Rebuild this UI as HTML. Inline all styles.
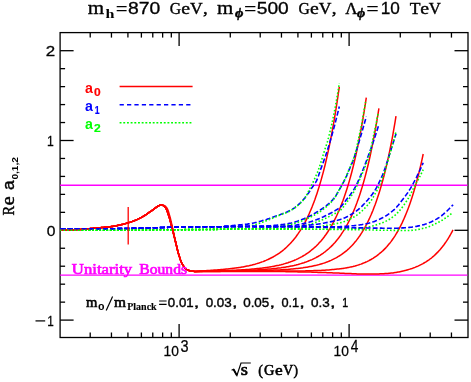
<!DOCTYPE html>
<html><head><meta charset="utf-8"><title>chart</title>
<style>html,body{margin:0;padding:0;background:#fff;}body{width:471px;height:382px;overflow:hidden;position:relative;}</style>
</head><body>
<svg width="471" height="382" viewBox="0 0 471 382" style="position:absolute;left:0;top:0">
<rect x="0" y="0" width="471" height="382" fill="#fff"/>
<clipPath id="c"><rect x="59.800000000000004" y="32.6" width="407.60" height="304.9"/></clipPath>
<g stroke="#000" stroke-width="1.3" fill="none" stroke-linecap="butt">
<rect x="60.1" y="32.6" width="407.9" height="304.9"/>
<line x1="90.21" x2="90.21" y1="337.5" y2="332.5"/>
<line x1="90.21" x2="90.21" y1="32.6" y2="37.6"/>
<line x1="111.45" x2="111.45" y1="337.5" y2="332.5"/>
<line x1="111.45" x2="111.45" y1="32.6" y2="37.6"/>
<line x1="127.92" x2="127.92" y1="337.5" y2="332.5"/>
<line x1="127.92" x2="127.92" y1="32.6" y2="37.6"/>
<line x1="141.39" x2="141.39" y1="337.5" y2="332.5"/>
<line x1="141.39" x2="141.39" y1="32.6" y2="37.6"/>
<line x1="152.77" x2="152.77" y1="337.5" y2="332.5"/>
<line x1="152.77" x2="152.77" y1="32.6" y2="37.6"/>
<line x1="162.63" x2="162.63" y1="337.5" y2="332.5"/>
<line x1="162.63" x2="162.63" y1="32.6" y2="37.6"/>
<line x1="171.32" x2="171.32" y1="337.5" y2="332.5"/>
<line x1="171.32" x2="171.32" y1="32.6" y2="37.6"/>
<line x1="179.10" x2="179.10" y1="337.5" y2="324.0"/>
<line x1="179.10" x2="179.10" y1="32.6" y2="46.1"/>
<line x1="230.28" x2="230.28" y1="337.5" y2="332.5"/>
<line x1="230.28" x2="230.28" y1="32.6" y2="37.6"/>
<line x1="260.21" x2="260.21" y1="337.5" y2="332.5"/>
<line x1="260.21" x2="260.21" y1="32.6" y2="37.6"/>
<line x1="281.45" x2="281.45" y1="337.5" y2="332.5"/>
<line x1="281.45" x2="281.45" y1="32.6" y2="37.6"/>
<line x1="297.92" x2="297.92" y1="337.5" y2="332.5"/>
<line x1="297.92" x2="297.92" y1="32.6" y2="37.6"/>
<line x1="311.39" x2="311.39" y1="337.5" y2="332.5"/>
<line x1="311.39" x2="311.39" y1="32.6" y2="37.6"/>
<line x1="322.77" x2="322.77" y1="337.5" y2="332.5"/>
<line x1="322.77" x2="322.77" y1="32.6" y2="37.6"/>
<line x1="332.63" x2="332.63" y1="337.5" y2="332.5"/>
<line x1="332.63" x2="332.63" y1="32.6" y2="37.6"/>
<line x1="341.32" x2="341.32" y1="337.5" y2="332.5"/>
<line x1="341.32" x2="341.32" y1="32.6" y2="37.6"/>
<line x1="349.10" x2="349.10" y1="337.5" y2="324.0"/>
<line x1="349.10" x2="349.10" y1="32.6" y2="46.1"/>
<line x1="400.28" x2="400.28" y1="337.5" y2="332.5"/>
<line x1="400.28" x2="400.28" y1="32.6" y2="37.6"/>
<line x1="430.21" x2="430.21" y1="337.5" y2="332.5"/>
<line x1="430.21" x2="430.21" y1="32.6" y2="37.6"/>
<line x1="451.45" x2="451.45" y1="337.5" y2="332.5"/>
<line x1="451.45" x2="451.45" y1="32.6" y2="37.6"/>
<line x1="60.1" x2="73.6" y1="320.10" y2="320.10"/>
<line x1="468.0" x2="454.5" y1="320.10" y2="320.10"/>
<line x1="60.1" x2="65.1" y1="302.14" y2="302.14"/>
<line x1="468.0" x2="463.0" y1="302.14" y2="302.14"/>
<line x1="60.1" x2="65.1" y1="284.18" y2="284.18"/>
<line x1="468.0" x2="463.0" y1="284.18" y2="284.18"/>
<line x1="60.1" x2="65.1" y1="266.22" y2="266.22"/>
<line x1="468.0" x2="463.0" y1="266.22" y2="266.22"/>
<line x1="60.1" x2="65.1" y1="248.26" y2="248.26"/>
<line x1="468.0" x2="463.0" y1="248.26" y2="248.26"/>
<line x1="60.1" x2="73.6" y1="230.30" y2="230.30"/>
<line x1="468.0" x2="454.5" y1="230.30" y2="230.30"/>
<line x1="60.1" x2="65.1" y1="212.34" y2="212.34"/>
<line x1="468.0" x2="463.0" y1="212.34" y2="212.34"/>
<line x1="60.1" x2="65.1" y1="194.38" y2="194.38"/>
<line x1="468.0" x2="463.0" y1="194.38" y2="194.38"/>
<line x1="60.1" x2="65.1" y1="176.42" y2="176.42"/>
<line x1="468.0" x2="463.0" y1="176.42" y2="176.42"/>
<line x1="60.1" x2="65.1" y1="158.46" y2="158.46"/>
<line x1="468.0" x2="463.0" y1="158.46" y2="158.46"/>
<line x1="60.1" x2="73.6" y1="140.50" y2="140.50"/>
<line x1="468.0" x2="454.5" y1="140.50" y2="140.50"/>
<line x1="60.1" x2="65.1" y1="122.54" y2="122.54"/>
<line x1="468.0" x2="463.0" y1="122.54" y2="122.54"/>
<line x1="60.1" x2="65.1" y1="104.58" y2="104.58"/>
<line x1="468.0" x2="463.0" y1="104.58" y2="104.58"/>
<line x1="60.1" x2="65.1" y1="86.62" y2="86.62"/>
<line x1="468.0" x2="463.0" y1="86.62" y2="86.62"/>
<line x1="60.1" x2="65.1" y1="68.66" y2="68.66"/>
<line x1="468.0" x2="463.0" y1="68.66" y2="68.66"/>
<line x1="60.1" x2="73.6" y1="50.70" y2="50.70"/>
<line x1="468.0" x2="454.5" y1="50.70" y2="50.70"/>
</g>
<g clip-path="url(#c)" fill="none" stroke-linejoin="round">
<line x1="60.1" x2="468.0" y1="185.30" y2="185.30" stroke="#f0f" stroke-width="1.4"/>
<line x1="60.1" x2="468.0" y1="275.10" y2="275.10" stroke="#f0f" stroke-width="1.4"/>
<path d="M60.5,230.1 L61.5,230.1 L62.5,230.1 L63.5,230.1 L64.5,230.0 L65.5,230.0 L66.5,230.0 L67.5,230.0 L68.5,229.9 L69.5,229.9 L70.5,229.9 L71.5,229.8 L72.5,229.8 L73.5,229.7 L74.5,229.7 L75.5,229.7 L76.5,229.6 L77.5,229.6 L78.5,229.5 L79.5,229.5 L80.5,229.4 L81.5,229.3 L82.5,229.3 L83.5,229.2 L84.5,229.1 L85.5,229.0 L86.5,229.0 L87.5,228.9 L88.5,228.8 L89.5,228.7 L90.5,228.6 L91.5,228.5 L92.5,228.4 L93.5,228.3 L94.5,228.3 L95.5,228.2 L96.5,228.1 L97.5,228.0 L98.5,227.9 L99.5,227.8 L100.5,227.7 L101.5,227.6 L102.5,227.5 L103.5,227.4 L104.5,227.3 L105.5,227.2 L106.5,227.1 L107.5,227.0 L108.5,226.9 L109.5,226.8 L110.5,226.7 L111.5,226.5 L112.5,226.4 L113.5,226.2 L114.5,226.1 L115.5,225.9 L116.5,225.7 L117.5,225.5 L118.5,225.3 L119.5,225.1 L120.5,224.9 L121.5,224.6 L122.5,224.4 L123.5,224.1 L124.5,223.9 L125.5,223.6 L126.5,223.3 L127.5,223.0 L128.5,222.7 L129.5,222.4 L130.5,222.1 L131.5,221.7 L132.5,221.4 L133.5,221.0 L134.5,220.6 L135.5,220.2 L136.5,219.8 L137.5,219.4 L138.5,218.9 L139.5,218.4 L140.5,217.9 L141.5,217.4 L142.5,216.8 L143.5,216.2 L144.5,215.6 L145.5,215.0 L146.5,214.3 L147.5,213.6 L148.5,212.9 L149.5,212.2 L150.5,211.5 L151.5,210.8 L152.5,210.1 L153.5,209.4 L154.5,208.6 L155.5,207.9 L156.5,207.2 L157.5,206.5 L158.5,205.9 L159.5,205.4 L160.5,205.0 L161.5,204.9 L162.5,205.2 L163.5,205.6 L164.5,206.4 L165.5,207.6 L166.5,209.3 L167.5,211.9 L168.5,214.9 L169.5,218.1 L170.5,221.7 L171.5,225.5 L172.5,229.4 L173.5,233.5 L174.5,237.6 L175.5,241.7 L176.5,245.9 L177.5,250.0 L178.5,253.7 L179.5,256.9 L180.5,259.9 L181.5,262.5 L182.5,264.4 L183.5,266.0 L184.5,267.4 L185.5,268.5 L186.5,269.3 L187.5,269.8 L188.5,270.3 L189.5,270.7 L190.5,270.9 L191.5,271.1 L192.5,271.2 L193.5,271.3 L194.5,271.4 L195.5,271.4 L197.0,271.3 L198.0,271.3 L199.0,271.2 L200.0,271.1 L201.0,271.0 L202.0,271.0 L203.0,270.9 L204.0,270.8 L205.0,270.8 L206.0,270.7 L207.0,270.6 L208.0,270.6 L209.0,270.5 L210.0,270.4 L211.0,270.3 L212.0,270.3 L213.0,270.2 L214.0,270.1 L215.0,270.1 L216.0,270.0 L217.0,269.9 L218.0,269.8 L219.0,269.7 L220.0,269.7 L221.0,269.6 L222.0,269.5 L223.0,269.4 L224.0,269.3 L225.0,269.2 L226.0,269.1 L227.0,269.0 L228.0,268.9 L229.0,268.8 L230.0,268.7 L231.0,268.6 L232.0,268.5 L233.0,268.3 L234.0,268.2 L235.0,268.1 L236.0,268.0 L237.0,267.8 L238.0,267.7 L239.0,267.5 L240.0,267.4 L241.0,267.2 L242.0,267.0 L243.0,266.9 L244.0,266.7 L245.0,266.5 L246.0,266.3 L247.0,266.1 L248.0,265.9 L249.0,265.7 L250.0,265.4 L251.0,265.2 L252.0,265.0 L253.0,264.7 L254.0,264.4 L255.0,264.2 L256.0,263.9 L257.0,263.6 L258.0,263.3 L259.0,263.0 L260.0,262.6 L261.0,262.3 L262.0,261.9 L263.0,261.6 L264.0,261.2 L265.0,260.8 L266.0,260.4 L267.0,259.9 L268.0,259.5 L269.0,259.0 L270.0,258.5 L271.0,258.0 L272.0,257.5 L273.0,257.0 L274.0,256.4 L275.0,255.8 L276.0,255.2 L277.0,254.6 L278.0,254.0 L279.0,253.3 L280.0,252.6 L281.0,251.8 L282.0,251.1 L283.0,250.3 L284.0,249.5 L285.0,248.6 L286.0,247.7 L287.0,246.8 L288.0,245.8 L289.0,244.8 L290.0,243.8 L291.0,242.7 L292.0,241.6 L293.0,240.4 L294.0,239.2 L295.0,238.0 L296.0,236.7 L297.0,235.3 L298.0,233.9 L299.0,232.4 L300.0,230.9 L301.0,229.3 L302.0,227.6 L303.0,225.9 L304.0,224.1 L305.0,222.3 L306.0,220.3 L307.0,218.3 L308.0,216.2 L309.0,214.1 L310.0,211.8 L311.0,209.5 L312.0,207.1 L313.0,204.5 L314.0,201.9 L315.0,199.2 L316.0,196.3 L317.0,193.4 L318.0,190.3 L319.0,187.1 L320.0,183.8 L321.0,180.4 L322.0,176.8 L323.0,173.1 L324.0,169.2 L325.0,165.2 L326.0,161.0 L327.0,156.7 L328.0,152.2 L329.0,147.5 L330.0,142.6 L331.0,137.5 L332.0,132.2 L333.0,126.7 L334.0,121.1 L335.0,115.1 L336.0,109.0 L337.0,102.6 L338.0,95.9 L339.0,89.0 L339.3,86.9" stroke="#f00" stroke-width="1.5"/>
<path d="M60.5,228.8 L61.5,228.8 L62.5,228.8 L63.5,228.8 L64.5,228.8 L65.5,228.8 L66.5,228.8 L67.5,228.8 L68.5,228.8 L69.5,228.8 L70.5,228.8 L71.5,228.8 L72.5,228.8 L73.5,228.8 L74.5,228.8 L75.5,228.8 L76.5,228.8 L77.5,228.8 L78.5,228.8 L79.5,228.8 L80.5,228.8 L81.5,228.8 L82.5,228.8 L83.5,228.8 L84.5,228.8 L85.5,228.8 L86.5,228.8 L87.5,228.8 L88.5,228.8 L89.5,228.8 L90.5,228.8 L91.5,228.8 L92.5,228.8 L93.5,228.8 L94.5,228.8 L95.5,228.7 L96.5,228.7 L97.5,228.7 L98.5,228.7 L99.5,228.7 L100.5,228.7 L101.5,228.7 L102.5,228.7 L103.5,228.7 L104.5,228.7 L105.5,228.7 L106.5,228.7 L107.5,228.7 L108.5,228.7 L109.5,228.7 L110.5,228.7 L111.5,228.7 L112.5,228.7 L113.5,228.7 L114.5,228.7 L115.5,228.7 L116.5,228.6 L117.5,228.6 L118.5,228.6 L119.5,228.6 L120.5,228.6 L121.5,228.6 L122.5,228.6 L123.5,228.5 L124.5,228.5 L125.5,228.5 L126.5,228.5 L127.5,228.5 L128.5,228.4 L129.5,228.4 L130.5,228.4 L131.5,228.4 L132.5,228.4 L133.5,228.3 L134.5,228.3 L135.5,228.3 L136.5,228.3 L137.5,228.3 L138.5,228.2 L139.5,228.2 L140.5,228.2 L141.5,228.2 L142.5,228.1 L143.5,228.1 L144.5,228.1 L145.5,228.1 L146.5,228.0 L147.5,228.0 L148.5,228.0 L149.5,227.9 L150.5,227.9 L151.5,227.9 L152.5,227.8 L153.5,227.8 L154.5,227.8 L155.5,227.7 L156.5,227.7 L157.5,227.7 L158.5,227.6 L159.5,227.6 L160.5,227.6 L161.5,227.5 L162.5,227.5 L163.5,227.5 L164.5,227.4 L165.5,227.4 L166.5,227.4 L167.5,227.4 L168.5,227.3 L169.5,227.3 L170.5,227.3 L171.5,227.3 L172.5,227.2 L173.5,227.2 L174.5,227.2 L175.5,227.2 L176.5,227.2 L177.5,227.2 L178.5,227.1 L179.5,227.1 L180.5,227.1 L181.5,227.1 L182.5,227.1 L183.5,227.1 L184.5,227.0 L185.5,227.0 L186.5,227.0 L187.5,227.0 L188.5,227.0 L189.5,227.0 L190.5,227.0 L191.5,226.9 L192.5,226.9 L193.5,226.9 L194.5,226.9 L195.5,226.9 L196.5,226.9 L197.5,226.9 L198.5,226.9 L199.5,226.9 L200.5,226.9 L201.5,226.8 L202.5,226.8 L203.5,226.8 L204.5,226.8 L205.5,226.8 L206.5,226.8 L207.5,226.8 L208.5,226.8 L209.5,226.8 L210.5,226.8 L211.5,226.8 L212.5,226.8 L213.5,226.8 L214.5,226.8 L215.5,226.8 L216.5,226.7 L217.5,226.7 L218.5,226.7 L219.5,226.7 L220.5,226.7 L221.5,226.7 L222.5,226.6 L223.5,226.5 L224.5,226.5 L225.5,226.4 L226.5,226.3 L227.5,226.2 L228.5,226.0 L229.5,225.9 L230.5,225.8 L231.5,225.7 L232.5,225.6 L233.5,225.5 L234.5,225.4 L235.5,225.3 L236.5,225.2 L237.5,225.1 L238.5,225.0 L239.5,224.9 L240.5,224.8 L241.5,224.7 L242.5,224.6 L243.5,224.5 L244.5,224.4 L245.5,224.3 L246.5,224.2 L247.5,224.1 L248.5,223.9 L249.5,223.8 L250.5,223.6 L251.5,223.4 L252.5,223.2 L253.5,223.0 L254.5,222.8 L255.5,222.5 L256.5,222.3 L257.5,222.0 L258.5,221.7 L259.5,221.5 L260.5,221.2 L261.5,220.9 L262.5,220.6 L263.5,220.3 L264.5,220.0 L265.5,219.7 L266.5,219.4 L267.5,219.0 L268.5,218.7 L269.5,218.4 L270.5,218.0 L271.5,217.7 L272.5,217.3 L273.5,216.9 L274.5,216.6 L275.5,216.2 L276.5,215.8 L277.5,215.5 L278.5,215.1 L279.5,214.7 L280.5,214.4 L281.5,214.0 L282.5,213.7 L283.5,213.3 L284.5,213.0 L285.5,212.6 L286.5,212.2 L287.5,211.8 L288.5,211.3 L289.5,210.8 L290.5,210.3 L291.5,209.8 L292.5,209.2 L293.5,208.5 L294.5,207.8 L295.5,207.0 L296.5,206.3 L297.5,205.5 L298.5,204.6 L299.5,203.7 L300.5,202.7 L301.5,201.7 L302.5,200.6 L303.5,199.5 L304.5,198.4 L305.5,197.1 L306.5,195.8 L307.5,194.4 L308.5,193.0 L309.5,191.5 L310.5,190.0 L311.5,188.4 L312.5,187.0 L313.5,185.6 L314.5,184.2 L315.5,182.6 L316.5,180.8 L317.5,178.6 L318.5,175.8 L319.5,172.8 L320.5,169.8 L321.5,167.1 L322.5,164.3 L323.5,161.6 L324.5,158.8 L325.5,156.0 L326.5,153.1 L327.5,150.0 L328.5,146.8 L329.5,143.5 L330.5,140.1 L331.5,136.6 L332.5,133.1 L333.5,129.4 L334.5,125.7 L335.5,121.9 L336.5,117.9 L337.5,113.9 L338.5,109.8 L339.3,106.5" stroke="#00f" stroke-width="1.6" stroke-dasharray="4.9 2.2"/>
<path d="M60.5,230.2 L61.5,230.2 L62.5,230.2 L63.5,230.2 L64.5,230.2 L65.5,230.2 L66.5,230.2 L67.5,230.2 L68.5,230.2 L69.5,230.2 L70.5,230.2 L71.5,230.2 L72.5,230.2 L73.5,230.2 L74.5,230.2 L75.5,230.2 L76.5,230.2 L77.5,230.2 L78.5,230.2 L79.5,230.2 L80.5,230.2 L81.5,230.2 L82.5,230.2 L83.5,230.2 L84.5,230.2 L85.5,230.2 L86.5,230.2 L87.5,230.2 L88.5,230.2 L89.5,230.2 L90.5,230.2 L91.5,230.2 L92.5,230.2 L93.5,230.2 L94.5,230.2 L95.5,230.2 L96.5,230.2 L97.5,230.2 L98.5,230.2 L99.5,230.2 L100.5,230.2 L101.5,230.2 L102.5,230.2 L103.5,230.2 L104.5,230.2 L105.5,230.2 L106.5,230.2 L107.5,230.2 L108.5,230.2 L109.5,230.2 L110.5,230.2 L111.5,230.2 L112.5,230.2 L113.5,230.2 L114.5,230.2 L115.5,230.2 L116.5,230.2 L117.5,230.2 L118.5,230.2 L119.5,230.2 L120.5,230.2 L121.5,230.2 L122.5,230.1 L123.5,230.1 L124.5,230.1 L125.5,230.1 L126.5,230.1 L127.5,230.1 L128.5,230.1 L129.5,230.1 L130.5,230.1 L131.5,230.1 L132.5,230.1 L133.5,230.1 L134.5,230.0 L135.5,230.0 L136.5,230.0 L137.5,230.0 L138.5,230.0 L139.5,230.0 L140.5,230.0 L141.5,230.0 L142.5,230.0 L143.5,230.0 L144.5,230.0 L145.5,229.9 L146.5,229.9 L147.5,229.9 L148.5,229.9 L149.5,229.9 L150.5,229.9 L151.5,229.9 L152.5,229.9 L153.5,229.9 L154.5,229.8 L155.5,229.8 L156.5,229.8 L157.5,229.8 L158.5,229.8 L159.5,229.8 L160.5,229.8 L161.5,229.8 L162.5,229.8 L163.5,229.7 L164.5,229.7 L165.5,229.7 L166.5,229.7 L167.5,229.7 L168.5,229.7 L169.5,229.7 L170.5,229.7 L171.5,229.7 L172.5,229.7 L173.5,229.7 L174.5,229.7 L175.5,229.7 L176.5,229.7 L177.5,229.7 L178.5,229.7 L179.5,229.7 L180.5,229.7 L181.5,229.7 L182.5,229.7 L183.5,229.6 L184.5,229.6 L185.5,229.6 L186.5,229.6 L187.5,229.6 L188.5,229.6 L189.5,229.6 L190.5,229.6 L191.5,229.6 L192.5,229.6 L193.5,229.6 L194.5,229.6 L195.5,229.6 L196.5,229.6 L197.5,229.6 L198.5,229.6 L199.5,229.6 L200.5,229.6 L201.5,229.6 L202.5,229.5 L203.5,229.5 L204.5,229.5 L205.5,229.5 L206.5,229.5 L207.5,229.5 L208.5,229.5 L209.5,229.5 L210.5,229.5 L211.5,229.5 L212.5,229.4 L213.5,229.4 L214.5,229.4 L215.5,229.4 L216.5,229.4 L217.5,229.4 L218.5,229.3 L219.5,229.3 L220.5,229.3 L221.5,229.2 L222.5,229.2 L223.5,229.1 L224.5,229.0 L225.5,228.9 L226.5,228.7 L227.5,228.6 L228.5,228.5 L229.5,228.3 L230.5,228.2 L231.5,228.1 L232.5,227.9 L233.5,227.8 L234.5,227.7 L235.5,227.5 L236.5,227.4 L237.5,227.3 L238.5,227.2 L239.5,227.1 L240.5,227.1 L241.5,227.0 L242.5,226.9 L243.5,226.8 L244.5,226.7 L245.5,226.5 L246.5,226.4 L247.5,226.3 L248.5,226.1 L249.5,226.0 L250.5,225.8 L251.5,225.6 L252.5,225.4 L253.5,225.1 L254.5,224.8 L255.5,224.5 L256.5,224.2 L257.5,223.9 L258.5,223.6 L259.5,223.2 L260.5,222.9 L261.5,222.5 L262.5,222.2 L263.5,221.8 L264.5,221.5 L265.5,221.1 L266.5,220.7 L267.5,220.3 L268.5,219.9 L269.5,219.5 L270.5,219.1 L271.5,218.7 L272.5,218.2 L273.5,217.8 L274.5,217.4 L275.5,216.9 L276.5,216.5 L277.5,216.1 L278.5,215.7 L279.5,215.3 L280.5,214.9 L281.5,214.5 L282.5,214.1 L283.5,213.8 L284.5,213.4 L285.5,213.0 L286.5,212.6 L287.5,212.1 L288.5,211.7 L289.5,211.2 L290.5,210.6 L291.5,210.0 L292.5,209.4 L293.5,208.7 L294.5,208.0 L295.5,207.3 L296.5,206.5 L297.5,205.7 L298.5,204.8 L299.5,204.0 L300.5,203.0 L301.5,202.1 L302.5,201.0 L303.5,199.8 L304.5,198.6 L305.5,197.1 L306.5,195.3 L307.5,193.3 L308.5,191.3 L309.5,189.3 L310.5,187.3 L311.5,185.4 L312.5,183.4 L313.5,181.3 L314.5,179.1 L315.5,176.9 L316.5,174.6 L317.5,172.2 L318.5,169.6 L319.5,166.7 L320.5,163.6 L321.5,160.4 L322.5,157.1 L323.5,153.8 L324.5,150.6 L325.5,147.6 L326.5,144.6 L327.5,141.4 L328.5,137.8 L329.5,133.8 L330.5,129.7 L331.5,125.4 L332.5,120.8 L333.5,116.0 L334.5,111.0 L335.5,105.7 L336.5,100.1 L337.5,94.3 L338.5,88.3 L339.3,83.2" stroke="#0f0" stroke-width="1.6" stroke-dasharray="1.6 1.95" stroke-dashoffset="0.0"/>
<path d="M60.5,230.1 L61.5,230.1 L62.5,230.1 L63.5,230.1 L64.5,230.0 L65.5,230.0 L66.5,230.0 L67.5,230.0 L68.5,229.9 L69.5,229.9 L70.5,229.9 L71.5,229.8 L72.5,229.8 L73.5,229.7 L74.5,229.7 L75.5,229.7 L76.5,229.6 L77.5,229.6 L78.5,229.5 L79.5,229.5 L80.5,229.4 L81.5,229.3 L82.5,229.3 L83.5,229.2 L84.5,229.1 L85.5,229.0 L86.5,229.0 L87.5,228.9 L88.5,228.8 L89.5,228.7 L90.5,228.6 L91.5,228.5 L92.5,228.4 L93.5,228.3 L94.5,228.3 L95.5,228.2 L96.5,228.1 L97.5,228.0 L98.5,227.9 L99.5,227.8 L100.5,227.7 L101.5,227.6 L102.5,227.5 L103.5,227.4 L104.5,227.3 L105.5,227.2 L106.5,227.1 L107.5,227.0 L108.5,226.9 L109.5,226.8 L110.5,226.7 L111.5,226.5 L112.5,226.4 L113.5,226.2 L114.5,226.1 L115.5,225.9 L116.5,225.7 L117.5,225.5 L118.5,225.3 L119.5,225.1 L120.5,224.9 L121.5,224.6 L122.5,224.4 L123.5,224.1 L124.5,223.9 L125.5,223.6 L126.5,223.3 L127.5,223.0 L128.5,222.7 L129.5,222.4 L130.5,222.1 L131.5,221.7 L132.5,221.4 L133.5,221.0 L134.5,220.6 L135.5,220.2 L136.5,219.8 L137.5,219.4 L138.5,218.9 L139.5,218.4 L140.5,217.9 L141.5,217.4 L142.5,216.8 L143.5,216.2 L144.5,215.6 L145.5,215.0 L146.5,214.3 L147.5,213.6 L148.5,212.9 L149.5,212.2 L150.5,211.5 L151.5,210.8 L152.5,210.1 L153.5,209.4 L154.5,208.6 L155.5,207.9 L156.5,207.2 L157.5,206.5 L158.5,205.9 L159.5,205.4 L160.5,205.0 L161.5,204.9 L162.5,205.2 L163.5,205.6 L164.5,206.4 L165.5,207.6 L166.5,209.3 L167.5,211.9 L168.5,214.9 L169.5,218.1 L170.5,221.7 L171.5,225.5 L172.5,229.4 L173.5,233.5 L174.5,237.6 L175.5,241.7 L176.5,245.9 L177.5,250.0 L178.5,253.7 L179.5,256.9 L180.5,259.9 L181.5,262.5 L182.5,264.4 L183.5,266.0 L184.5,267.4 L185.5,268.5 L186.5,269.3 L187.5,269.8 L188.5,270.3 L189.5,270.7 L190.5,270.9 L191.5,271.1 L192.5,271.2 L193.5,271.3 L194.5,271.4 L195.5,271.4 L197.0,271.4 L198.0,271.3 L199.0,271.3 L200.0,271.3 L201.0,271.3 L202.0,271.2 L203.0,271.2 L204.0,271.2 L205.0,271.2 L206.0,271.1 L207.0,271.1 L208.0,271.1 L209.0,271.1 L210.0,271.0 L211.0,271.0 L212.0,271.0 L213.0,271.0 L214.0,270.9 L215.0,270.9 L216.0,270.9 L217.0,270.9 L218.0,270.8 L219.0,270.8 L220.0,270.8 L221.0,270.7 L222.0,270.7 L223.0,270.7 L224.0,270.6 L225.0,270.6 L226.0,270.6 L227.0,270.5 L228.0,270.5 L229.0,270.5 L230.0,270.4 L231.0,270.4 L232.0,270.3 L233.0,270.3 L234.0,270.3 L235.0,270.2 L236.0,270.2 L237.0,270.1 L238.0,270.1 L239.0,270.0 L240.0,270.0 L241.0,269.9 L242.0,269.8 L243.0,269.8 L244.0,269.7 L245.0,269.7 L246.0,269.6 L247.0,269.5 L248.0,269.4 L249.0,269.4 L250.0,269.3 L251.0,269.2 L252.0,269.1 L253.0,269.0 L254.0,268.9 L255.0,268.8 L256.0,268.7 L257.0,268.6 L258.0,268.5 L259.0,268.4 L260.0,268.3 L261.0,268.2 L262.0,268.1 L263.0,267.9 L264.0,267.8 L265.0,267.7 L266.0,267.5 L267.0,267.4 L268.0,267.2 L269.0,267.1 L270.0,266.9 L271.0,266.7 L272.0,266.6 L273.0,266.4 L274.0,266.2 L275.0,266.0 L276.0,265.8 L277.0,265.6 L278.0,265.4 L279.0,265.2 L280.0,264.9 L281.0,264.7 L282.0,264.4 L283.0,264.2 L284.0,263.9 L285.0,263.6 L286.0,263.3 L287.0,263.0 L288.0,262.7 L289.0,262.3 L290.0,262.0 L291.0,261.6 L292.0,261.3 L293.0,260.9 L294.0,260.5 L295.0,260.0 L296.0,259.6 L297.0,259.1 L298.0,258.7 L299.0,258.2 L300.0,257.7 L301.0,257.1 L302.0,256.6 L303.0,256.0 L304.0,255.4 L305.0,254.8 L306.0,254.1 L307.0,253.5 L308.0,252.8 L309.0,252.1 L310.0,251.3 L311.0,250.5 L312.0,249.7 L313.0,248.9 L314.0,248.0 L315.0,247.1 L316.0,246.2 L317.0,245.2 L318.0,244.2 L319.0,243.1 L320.0,242.0 L321.0,240.9 L322.0,239.7 L323.0,238.5 L324.0,237.2 L325.0,235.8 L326.0,234.5 L327.0,233.0 L328.0,231.5 L329.0,229.9 L330.0,228.3 L331.0,226.6 L332.0,224.9 L333.0,223.1 L334.0,221.2 L335.0,219.2 L336.0,217.2 L337.0,215.0 L338.0,212.8 L339.0,210.6 L340.0,208.2 L341.0,205.7 L342.0,203.1 L343.0,200.5 L344.0,197.7 L345.0,194.8 L346.0,191.8 L347.0,188.7 L348.0,185.5 L349.0,182.1 L350.0,178.6 L351.0,175.0 L352.0,171.2 L353.0,167.2 L354.0,163.2 L355.0,158.9 L356.0,154.5 L357.0,149.9 L358.0,145.1 L359.0,140.2 L360.0,135.0 L361.0,129.7 L362.0,124.1 L363.0,118.3 L364.0,112.3 L365.0,106.1 L366.0,99.6 L366.3,97.6" stroke="#f00" stroke-width="1.5"/>
<path d="M60.5,228.8 L61.5,228.8 L62.5,228.8 L63.5,228.8 L64.5,228.8 L65.5,228.8 L66.5,228.8 L67.5,228.8 L68.5,228.8 L69.5,228.8 L70.5,228.8 L71.5,228.8 L72.5,228.8 L73.5,228.8 L74.5,228.8 L75.5,228.8 L76.5,228.8 L77.5,228.8 L78.5,228.8 L79.5,228.8 L80.5,228.8 L81.5,228.8 L82.5,228.8 L83.5,228.8 L84.5,228.8 L85.5,228.8 L86.5,228.8 L87.5,228.8 L88.5,228.8 L89.5,228.8 L90.5,228.8 L91.5,228.8 L92.5,228.8 L93.5,228.8 L94.5,228.8 L95.5,228.7 L96.5,228.7 L97.5,228.7 L98.5,228.7 L99.5,228.7 L100.5,228.7 L101.5,228.7 L102.5,228.7 L103.5,228.7 L104.5,228.7 L105.5,228.7 L106.5,228.7 L107.5,228.7 L108.5,228.7 L109.5,228.7 L110.5,228.7 L111.5,228.7 L112.5,228.7 L113.5,228.7 L114.5,228.7 L115.5,228.7 L116.5,228.6 L117.5,228.6 L118.5,228.6 L119.5,228.6 L120.5,228.6 L121.5,228.6 L122.5,228.6 L123.5,228.5 L124.5,228.5 L125.5,228.5 L126.5,228.5 L127.5,228.5 L128.5,228.4 L129.5,228.4 L130.5,228.4 L131.5,228.4 L132.5,228.4 L133.5,228.3 L134.5,228.3 L135.5,228.3 L136.5,228.3 L137.5,228.3 L138.5,228.2 L139.5,228.2 L140.5,228.2 L141.5,228.2 L142.5,228.1 L143.5,228.1 L144.5,228.1 L145.5,228.1 L146.5,228.0 L147.5,228.0 L148.5,228.0 L149.5,227.9 L150.5,227.9 L151.5,227.9 L152.5,227.8 L153.5,227.8 L154.5,227.8 L155.5,227.7 L156.5,227.7 L157.5,227.7 L158.5,227.6 L159.5,227.6 L160.5,227.6 L161.5,227.5 L162.5,227.5 L163.5,227.5 L164.5,227.4 L165.5,227.4 L166.5,227.4 L167.5,227.4 L168.5,227.3 L169.5,227.3 L170.5,227.3 L171.5,227.3 L172.5,227.2 L173.5,227.2 L174.5,227.2 L175.5,227.2 L176.5,227.2 L177.5,227.2 L178.5,227.1 L179.5,227.1 L180.5,227.1 L181.5,227.1 L182.5,227.1 L183.5,227.1 L184.5,227.0 L185.5,227.0 L186.5,227.0 L187.5,227.0 L188.5,227.0 L189.5,227.0 L190.5,227.0 L191.5,226.9 L192.5,226.9 L193.5,226.9 L194.5,226.9 L195.5,226.9 L196.5,226.9 L197.5,226.9 L198.5,226.9 L199.5,226.9 L200.5,226.8 L201.5,226.8 L202.5,226.8 L203.5,226.8 L204.5,226.8 L205.5,226.8 L206.5,226.8 L207.5,226.8 L208.5,226.8 L209.5,226.8 L210.5,226.8 L211.5,226.8 L212.5,226.8 L213.5,226.8 L214.5,226.7 L215.5,226.7 L216.5,226.7 L217.5,226.7 L218.5,226.7 L219.5,226.7 L220.5,226.7 L221.5,226.7 L222.5,226.7 L223.5,226.7 L224.5,226.6 L225.5,226.6 L226.5,226.6 L227.5,226.6 L228.5,226.6 L229.5,226.6 L230.5,226.6 L231.5,226.5 L232.5,226.5 L233.5,226.5 L234.5,226.5 L235.5,226.5 L236.5,226.5 L237.5,226.5 L238.5,226.5 L239.5,226.5 L240.5,226.4 L241.5,226.4 L242.5,226.4 L243.5,226.4 L244.5,226.4 L245.5,226.4 L246.5,226.4 L247.5,226.4 L248.5,226.4 L249.5,226.4 L250.5,226.4 L251.5,226.3 L252.5,226.3 L253.5,226.3 L254.5,226.3 L255.5,226.3 L256.5,226.3 L257.5,226.2 L258.5,226.2 L259.5,226.2 L260.5,226.2 L261.5,226.1 L262.5,226.1 L263.5,226.0 L264.5,226.0 L265.5,225.9 L266.5,225.9 L267.5,225.8 L268.5,225.8 L269.5,225.7 L270.5,225.7 L271.5,225.6 L272.5,225.5 L273.5,225.5 L274.5,225.4 L275.5,225.3 L276.5,225.2 L277.5,225.1 L278.5,225.0 L279.5,224.9 L280.5,224.7 L281.5,224.6 L282.5,224.5 L283.5,224.4 L284.5,224.2 L285.5,224.1 L286.5,223.9 L287.5,223.8 L288.5,223.6 L289.5,223.4 L290.5,223.2 L291.5,223.0 L292.5,222.7 L293.5,222.5 L294.5,222.2 L295.5,221.8 L296.5,221.5 L297.5,221.2 L298.5,220.8 L299.5,220.4 L300.5,220.1 L301.5,219.7 L302.5,219.3 L303.5,218.9 L304.5,218.5 L305.5,218.0 L306.5,217.6 L307.5,217.1 L308.5,216.7 L309.5,216.2 L310.5,215.7 L311.5,215.2 L312.5,214.6 L313.5,214.1 L314.5,213.5 L315.5,212.9 L316.5,212.3 L317.5,211.7 L318.5,211.1 L319.5,210.5 L320.5,209.8 L321.5,209.2 L322.5,208.5 L323.5,207.8 L324.5,207.1 L325.5,206.3 L326.5,205.6 L327.5,204.7 L328.5,203.9 L329.5,203.0 L330.5,202.1 L331.5,201.1 L332.5,200.0 L333.5,198.9 L334.5,197.6 L335.5,196.2 L336.5,194.6 L337.5,192.9 L338.5,191.2 L339.5,189.4 L340.5,187.6 L341.5,185.8 L342.5,184.1 L343.5,182.2 L344.5,180.3 L345.5,178.3 L346.5,176.1 L347.5,173.7 L348.5,171.3 L349.5,168.9 L350.5,166.6 L351.5,164.4 L352.5,162.1 L353.5,159.5 L354.5,156.5 L355.5,153.3 L356.5,150.0 L357.5,146.7 L358.5,143.5 L359.5,140.2 L360.5,136.8 L361.5,133.4 L362.5,130.0 L363.5,126.5 L364.5,123.0 L365.5,119.5 L366.3,116.6" stroke="#00f" stroke-width="1.6" stroke-dasharray="4.9 2.2"/>
<path d="M60.5,230.2 L61.5,230.2 L62.5,230.2 L63.5,230.2 L64.5,230.2 L65.5,230.2 L66.5,230.2 L67.5,230.2 L68.5,230.2 L69.5,230.2 L70.5,230.2 L71.5,230.2 L72.5,230.2 L73.5,230.2 L74.5,230.2 L75.5,230.2 L76.5,230.2 L77.5,230.2 L78.5,230.2 L79.5,230.2 L80.5,230.2 L81.5,230.2 L82.5,230.2 L83.5,230.2 L84.5,230.2 L85.5,230.2 L86.5,230.2 L87.5,230.2 L88.5,230.2 L89.5,230.2 L90.5,230.2 L91.5,230.2 L92.5,230.2 L93.5,230.2 L94.5,230.2 L95.5,230.2 L96.5,230.2 L97.5,230.2 L98.5,230.2 L99.5,230.2 L100.5,230.2 L101.5,230.2 L102.5,230.2 L103.5,230.2 L104.5,230.2 L105.5,230.2 L106.5,230.2 L107.5,230.2 L108.5,230.2 L109.5,230.2 L110.5,230.2 L111.5,230.2 L112.5,230.2 L113.5,230.2 L114.5,230.2 L115.5,230.2 L116.5,230.2 L117.5,230.2 L118.5,230.2 L119.5,230.2 L120.5,230.2 L121.5,230.2 L122.5,230.1 L123.5,230.1 L124.5,230.1 L125.5,230.1 L126.5,230.1 L127.5,230.1 L128.5,230.1 L129.5,230.1 L130.5,230.1 L131.5,230.1 L132.5,230.1 L133.5,230.1 L134.5,230.0 L135.5,230.0 L136.5,230.0 L137.5,230.0 L138.5,230.0 L139.5,230.0 L140.5,230.0 L141.5,230.0 L142.5,230.0 L143.5,230.0 L144.5,230.0 L145.5,229.9 L146.5,229.9 L147.5,229.9 L148.5,229.9 L149.5,229.9 L150.5,229.9 L151.5,229.9 L152.5,229.9 L153.5,229.9 L154.5,229.8 L155.5,229.8 L156.5,229.8 L157.5,229.8 L158.5,229.8 L159.5,229.8 L160.5,229.8 L161.5,229.8 L162.5,229.8 L163.5,229.7 L164.5,229.7 L165.5,229.7 L166.5,229.7 L167.5,229.7 L168.5,229.7 L169.5,229.7 L170.5,229.7 L171.5,229.7 L172.5,229.7 L173.5,229.7 L174.5,229.7 L175.5,229.7 L176.5,229.7 L177.5,229.7 L178.5,229.7 L179.5,229.7 L180.5,229.7 L181.5,229.7 L182.5,229.7 L183.5,229.6 L184.5,229.6 L185.5,229.6 L186.5,229.6 L187.5,229.6 L188.5,229.6 L189.5,229.6 L190.5,229.6 L191.5,229.6 L192.5,229.6 L193.5,229.6 L194.5,229.6 L195.5,229.6 L196.5,229.6 L197.5,229.6 L198.5,229.6 L199.5,229.6 L200.5,229.6 L201.5,229.5 L202.5,229.5 L203.5,229.5 L204.5,229.5 L205.5,229.5 L206.5,229.5 L207.5,229.5 L208.5,229.5 L209.5,229.5 L210.5,229.4 L211.5,229.4 L212.5,229.4 L213.5,229.4 L214.5,229.4 L215.5,229.4 L216.5,229.4 L217.5,229.3 L218.5,229.3 L219.5,229.3 L220.5,229.3 L221.5,229.3 L222.5,229.3 L223.5,229.2 L224.5,229.2 L225.5,229.2 L226.5,229.2 L227.5,229.2 L228.5,229.1 L229.5,229.1 L230.5,229.1 L231.5,229.1 L232.5,229.1 L233.5,229.0 L234.5,229.0 L235.5,229.0 L236.5,229.0 L237.5,229.0 L238.5,228.9 L239.5,228.9 L240.5,228.9 L241.5,228.9 L242.5,228.9 L243.5,228.9 L244.5,228.8 L245.5,228.8 L246.5,228.8 L247.5,228.8 L248.5,228.8 L249.5,228.8 L250.5,228.7 L251.5,228.7 L252.5,228.7 L253.5,228.7 L254.5,228.7 L255.5,228.7 L256.5,228.6 L257.5,228.6 L258.5,228.6 L259.5,228.5 L260.5,228.5 L261.5,228.5 L262.5,228.4 L263.5,228.4 L264.5,228.4 L265.5,228.3 L266.5,228.2 L267.5,228.1 L268.5,228.0 L269.5,227.9 L270.5,227.7 L271.5,227.6 L272.5,227.4 L273.5,227.2 L274.5,227.1 L275.5,226.9 L276.5,226.8 L277.5,226.6 L278.5,226.5 L279.5,226.3 L280.5,226.2 L281.5,226.0 L282.5,225.9 L283.5,225.7 L284.5,225.6 L285.5,225.4 L286.5,225.3 L287.5,225.1 L288.5,224.9 L289.5,224.7 L290.5,224.5 L291.5,224.3 L292.5,224.0 L293.5,223.7 L294.5,223.4 L295.5,223.1 L296.5,222.8 L297.5,222.4 L298.5,222.1 L299.5,221.7 L300.5,221.3 L301.5,221.0 L302.5,220.6 L303.5,220.2 L304.5,219.8 L305.5,219.3 L306.5,218.9 L307.5,218.5 L308.5,218.0 L309.5,217.6 L310.5,217.1 L311.5,216.6 L312.5,216.1 L313.5,215.5 L314.5,215.0 L315.5,214.4 L316.5,213.8 L317.5,213.2 L318.5,212.6 L319.5,211.9 L320.5,211.3 L321.5,210.6 L322.5,209.9 L323.5,209.1 L324.5,208.3 L325.5,207.5 L326.5,206.7 L327.5,205.8 L328.5,204.9 L329.5,203.9 L330.5,202.9 L331.5,201.8 L332.5,200.7 L333.5,199.5 L334.5,198.1 L335.5,196.5 L336.5,194.8 L337.5,193.0 L338.5,191.1 L339.5,189.2 L340.5,187.3 L341.5,185.5 L342.5,183.7 L343.5,181.8 L344.5,179.9 L345.5,177.9 L346.5,175.6 L347.5,173.3 L348.5,170.9 L349.5,168.5 L350.5,166.1 L351.5,163.8 L352.5,161.3 L353.5,158.6 L354.5,155.7 L355.5,152.5 L356.5,148.7 L357.5,143.7 L358.5,138.8 L359.5,134.4 L360.5,130.0 L361.5,125.2 L362.5,119.5 L363.5,113.3 L364.5,107.7 L365.6,102.0" stroke="#0f0" stroke-width="1.6" stroke-dasharray="1.6 1.95" stroke-dashoffset="0.1"/>
<path d="M60.5,230.1 L61.5,230.1 L62.5,230.1 L63.5,230.1 L64.5,230.0 L65.5,230.0 L66.5,230.0 L67.5,230.0 L68.5,229.9 L69.5,229.9 L70.5,229.9 L71.5,229.8 L72.5,229.8 L73.5,229.7 L74.5,229.7 L75.5,229.7 L76.5,229.6 L77.5,229.6 L78.5,229.5 L79.5,229.5 L80.5,229.4 L81.5,229.3 L82.5,229.3 L83.5,229.2 L84.5,229.1 L85.5,229.0 L86.5,229.0 L87.5,228.9 L88.5,228.8 L89.5,228.7 L90.5,228.6 L91.5,228.5 L92.5,228.4 L93.5,228.3 L94.5,228.3 L95.5,228.2 L96.5,228.1 L97.5,228.0 L98.5,227.9 L99.5,227.8 L100.5,227.7 L101.5,227.6 L102.5,227.5 L103.5,227.4 L104.5,227.3 L105.5,227.2 L106.5,227.1 L107.5,227.0 L108.5,226.9 L109.5,226.8 L110.5,226.7 L111.5,226.5 L112.5,226.4 L113.5,226.2 L114.5,226.1 L115.5,225.9 L116.5,225.7 L117.5,225.5 L118.5,225.3 L119.5,225.1 L120.5,224.9 L121.5,224.6 L122.5,224.4 L123.5,224.1 L124.5,223.9 L125.5,223.6 L126.5,223.3 L127.5,223.0 L128.5,222.7 L129.5,222.4 L130.5,222.1 L131.5,221.7 L132.5,221.4 L133.5,221.0 L134.5,220.6 L135.5,220.2 L136.5,219.8 L137.5,219.4 L138.5,218.9 L139.5,218.4 L140.5,217.9 L141.5,217.4 L142.5,216.8 L143.5,216.2 L144.5,215.6 L145.5,215.0 L146.5,214.3 L147.5,213.6 L148.5,212.9 L149.5,212.2 L150.5,211.5 L151.5,210.8 L152.5,210.1 L153.5,209.4 L154.5,208.6 L155.5,207.9 L156.5,207.2 L157.5,206.5 L158.5,205.9 L159.5,205.4 L160.5,205.0 L161.5,204.9 L162.5,205.2 L163.5,205.6 L164.5,206.4 L165.5,207.6 L166.5,209.3 L167.5,211.9 L168.5,214.9 L169.5,218.1 L170.5,221.7 L171.5,225.5 L172.5,229.4 L173.5,233.5 L174.5,237.6 L175.5,241.7 L176.5,245.9 L177.5,250.0 L178.5,253.7 L179.5,256.9 L180.5,259.9 L181.5,262.5 L182.5,264.4 L183.5,266.0 L184.5,267.4 L185.5,268.5 L186.5,269.3 L187.5,269.8 L188.5,270.3 L189.5,270.7 L190.5,270.9 L191.5,271.1 L192.5,271.2 L193.5,271.3 L194.5,271.4 L195.5,271.4 L197.0,271.4 L198.0,271.4 L199.0,271.4 L200.0,271.3 L201.0,271.3 L202.0,271.3 L203.0,271.3 L204.0,271.3 L205.0,271.3 L206.0,271.3 L207.0,271.2 L208.0,271.2 L209.0,271.2 L210.0,271.2 L211.0,271.2 L212.0,271.2 L213.0,271.2 L214.0,271.1 L215.0,271.1 L216.0,271.1 L217.0,271.1 L218.0,271.1 L219.0,271.1 L220.0,271.1 L221.0,271.0 L222.0,271.0 L223.0,271.0 L224.0,271.0 L225.0,271.0 L226.0,271.0 L227.0,270.9 L228.0,270.9 L229.0,270.9 L230.0,270.9 L231.0,270.8 L232.0,270.8 L233.0,270.8 L234.0,270.8 L235.0,270.8 L236.0,270.7 L237.0,270.7 L238.0,270.7 L239.0,270.6 L240.0,270.6 L241.0,270.6 L242.0,270.6 L243.0,270.5 L244.0,270.5 L245.0,270.4 L246.0,270.4 L247.0,270.4 L248.0,270.3 L249.0,270.3 L250.0,270.2 L251.0,270.2 L252.0,270.2 L253.0,270.1 L254.0,270.1 L255.0,270.0 L256.0,269.9 L257.0,269.9 L258.0,269.8 L259.0,269.8 L260.0,269.7 L261.0,269.6 L262.0,269.6 L263.0,269.5 L264.0,269.4 L265.0,269.4 L266.0,269.3 L267.0,269.2 L268.0,269.1 L269.0,269.0 L270.0,269.0 L271.0,268.9 L272.0,268.8 L273.0,268.7 L274.0,268.6 L275.0,268.5 L276.0,268.4 L277.0,268.2 L278.0,268.1 L279.0,268.0 L280.0,267.9 L281.0,267.8 L282.0,267.6 L283.0,267.5 L284.0,267.3 L285.0,267.2 L286.0,267.0 L287.0,266.8 L288.0,266.7 L289.0,266.5 L290.0,266.3 L291.0,266.1 L292.0,265.9 L293.0,265.7 L294.0,265.5 L295.0,265.2 L296.0,265.0 L297.0,264.7 L298.0,264.5 L299.0,264.2 L300.0,263.9 L301.0,263.6 L302.0,263.3 L303.0,263.0 L304.0,262.7 L305.0,262.3 L306.0,262.0 L307.0,261.6 L308.0,261.2 L309.0,260.8 L310.0,260.4 L311.0,260.0 L312.0,259.6 L313.0,259.1 L314.0,258.6 L315.0,258.1 L316.0,257.6 L317.0,257.0 L318.0,256.5 L319.0,255.9 L320.0,255.3 L321.0,254.6 L322.0,254.0 L323.0,253.3 L324.0,252.5 L325.0,251.8 L326.0,251.0 L327.0,250.2 L328.0,249.3 L329.0,248.5 L330.0,247.5 L331.0,246.6 L332.0,245.6 L333.0,244.6 L334.0,243.5 L335.0,242.4 L336.0,241.2 L337.0,240.0 L338.0,238.8 L339.0,237.5 L340.0,236.1 L341.0,234.7 L342.0,233.2 L343.0,231.7 L344.0,230.1 L345.0,228.5 L346.0,226.7 L347.0,225.0 L348.0,223.1 L349.0,221.2 L350.0,219.1 L351.0,217.1 L352.0,214.9 L353.0,212.6 L354.0,210.2 L355.0,207.8 L356.0,205.2 L357.0,202.6 L358.0,199.8 L359.0,196.9 L360.0,193.9 L361.0,190.8 L362.0,187.6 L363.0,184.2 L364.0,180.7 L365.0,177.1 L366.0,173.3 L367.0,169.3 L368.0,165.2 L369.0,161.0 L370.0,156.5 L371.0,151.9 L372.0,147.1 L373.0,142.1 L374.0,136.9 L375.0,131.5 L376.0,125.9 L377.0,120.1 L378.0,114.1 L378.9,108.4" stroke="#f00" stroke-width="1.5"/>
<path d="M60.5,228.8 L61.5,228.8 L62.5,228.8 L63.5,228.8 L64.5,228.8 L65.5,228.8 L66.5,228.8 L67.5,228.8 L68.5,228.8 L69.5,228.8 L70.5,228.8 L71.5,228.8 L72.5,228.8 L73.5,228.8 L74.5,228.8 L75.5,228.8 L76.5,228.8 L77.5,228.8 L78.5,228.8 L79.5,228.8 L80.5,228.8 L81.5,228.8 L82.5,228.8 L83.5,228.8 L84.5,228.8 L85.5,228.8 L86.5,228.8 L87.5,228.8 L88.5,228.8 L89.5,228.8 L90.5,228.8 L91.5,228.8 L92.5,228.8 L93.5,228.8 L94.5,228.8 L95.5,228.7 L96.5,228.7 L97.5,228.7 L98.5,228.7 L99.5,228.7 L100.5,228.7 L101.5,228.7 L102.5,228.7 L103.5,228.7 L104.5,228.7 L105.5,228.7 L106.5,228.7 L107.5,228.7 L108.5,228.7 L109.5,228.7 L110.5,228.7 L111.5,228.7 L112.5,228.7 L113.5,228.7 L114.5,228.7 L115.5,228.7 L116.5,228.6 L117.5,228.6 L118.5,228.6 L119.5,228.6 L120.5,228.6 L121.5,228.6 L122.5,228.6 L123.5,228.5 L124.5,228.5 L125.5,228.5 L126.5,228.5 L127.5,228.5 L128.5,228.4 L129.5,228.4 L130.5,228.4 L131.5,228.4 L132.5,228.4 L133.5,228.3 L134.5,228.3 L135.5,228.3 L136.5,228.3 L137.5,228.3 L138.5,228.2 L139.5,228.2 L140.5,228.2 L141.5,228.2 L142.5,228.1 L143.5,228.1 L144.5,228.1 L145.5,228.1 L146.5,228.0 L147.5,228.0 L148.5,228.0 L149.5,227.9 L150.5,227.9 L151.5,227.9 L152.5,227.8 L153.5,227.8 L154.5,227.8 L155.5,227.7 L156.5,227.7 L157.5,227.7 L158.5,227.6 L159.5,227.6 L160.5,227.6 L161.5,227.5 L162.5,227.5 L163.5,227.5 L164.5,227.4 L165.5,227.4 L166.5,227.4 L167.5,227.4 L168.5,227.3 L169.5,227.3 L170.5,227.3 L171.5,227.3 L172.5,227.2 L173.5,227.2 L174.5,227.2 L175.5,227.2 L176.5,227.2 L177.5,227.2 L178.5,227.1 L179.5,227.1 L180.5,227.1 L181.5,227.1 L182.5,227.1 L183.5,227.1 L184.5,227.0 L185.5,227.0 L186.5,227.0 L187.5,227.0 L188.5,227.0 L189.5,227.0 L190.5,227.0 L191.5,226.9 L192.5,226.9 L193.5,226.9 L194.5,226.9 L195.5,226.9 L196.5,226.9 L197.5,226.9 L198.5,226.9 L199.5,226.9 L200.5,226.8 L201.5,226.8 L202.5,226.8 L203.5,226.8 L204.5,226.8 L205.5,226.8 L206.5,226.8 L207.5,226.8 L208.5,226.8 L209.5,226.8 L210.5,226.8 L211.5,226.8 L212.5,226.8 L213.5,226.8 L214.5,226.7 L215.5,226.7 L216.5,226.7 L217.5,226.7 L218.5,226.7 L219.5,226.7 L220.5,226.7 L221.5,226.7 L222.5,226.7 L223.5,226.7 L224.5,226.6 L225.5,226.6 L226.5,226.6 L227.5,226.6 L228.5,226.6 L229.5,226.5 L230.5,226.5 L231.5,226.5 L232.5,226.5 L233.5,226.5 L234.5,226.5 L235.5,226.5 L236.5,226.5 L237.5,226.5 L238.5,226.5 L239.5,226.5 L240.5,226.5 L241.5,226.5 L242.5,226.5 L243.5,226.5 L244.5,226.5 L245.5,226.5 L246.5,226.5 L247.5,226.5 L248.5,226.5 L249.5,226.6 L250.5,226.6 L251.5,226.6 L252.5,226.6 L253.5,226.6 L254.5,226.6 L255.5,226.6 L256.5,226.6 L257.5,226.6 L258.5,226.6 L259.5,226.6 L260.5,226.6 L261.5,226.6 L262.5,226.6 L263.5,226.6 L264.5,226.6 L265.5,226.6 L266.5,226.6 L267.5,226.6 L268.5,226.6 L269.5,226.6 L270.5,226.5 L271.5,226.5 L272.5,226.5 L273.5,226.5 L274.5,226.5 L275.5,226.4 L276.5,226.4 L277.5,226.4 L278.5,226.3 L279.5,226.3 L280.5,226.3 L281.5,226.2 L282.5,226.2 L283.5,226.1 L284.5,226.1 L285.5,226.0 L286.5,226.0 L287.5,225.9 L288.5,225.9 L289.5,225.8 L290.5,225.8 L291.5,225.7 L292.5,225.6 L293.5,225.5 L294.5,225.3 L295.5,225.2 L296.5,225.0 L297.5,224.8 L298.5,224.6 L299.5,224.5 L300.5,224.2 L301.5,224.0 L302.5,223.8 L303.5,223.6 L304.5,223.4 L305.5,223.1 L306.5,222.9 L307.5,222.6 L308.5,222.4 L309.5,222.1 L310.5,221.8 L311.5,221.4 L312.5,221.1 L313.5,220.8 L314.5,220.4 L315.5,220.0 L316.5,219.7 L317.5,219.3 L318.5,218.9 L319.5,218.5 L320.5,218.1 L321.5,217.7 L322.5,217.2 L323.5,216.8 L324.5,216.3 L325.5,215.8 L326.5,215.3 L327.5,214.8 L328.5,214.3 L329.5,213.8 L330.5,213.2 L331.5,212.7 L332.5,212.1 L333.5,211.5 L334.5,211.0 L335.5,210.4 L336.5,209.8 L337.5,209.2 L338.5,208.5 L339.5,207.7 L340.5,206.9 L341.5,205.9 L342.5,204.7 L343.5,203.5 L344.5,202.3 L345.5,200.9 L346.5,199.6 L347.5,198.3 L348.5,197.0 L349.5,195.7 L350.5,194.4 L351.5,193.0 L352.5,191.6 L353.5,190.1 L354.5,188.4 L355.5,186.6 L356.5,184.7 L357.5,182.6 L358.5,180.4 L359.5,178.2 L360.5,175.9 L361.5,173.5 L362.5,171.0 L363.5,168.5 L364.5,166.0 L365.5,163.3 L366.5,160.7 L367.5,158.0 L368.5,155.2 L369.5,152.5 L370.5,149.7 L371.5,146.9 L372.5,144.1 L373.5,141.2 L374.5,138.2 L375.5,135.2 L376.5,132.2 L377.5,129.1 L378.5,126.0 L378.9,124.7" stroke="#00f" stroke-width="1.6" stroke-dasharray="4.9 2.2"/>
<path d="M60.5,230.2 L61.5,230.2 L62.5,230.2 L63.5,230.2 L64.5,230.2 L65.5,230.2 L66.5,230.2 L67.5,230.2 L68.5,230.2 L69.5,230.2 L70.5,230.2 L71.5,230.2 L72.5,230.2 L73.5,230.2 L74.5,230.2 L75.5,230.2 L76.5,230.2 L77.5,230.2 L78.5,230.2 L79.5,230.2 L80.5,230.2 L81.5,230.2 L82.5,230.2 L83.5,230.2 L84.5,230.2 L85.5,230.2 L86.5,230.2 L87.5,230.2 L88.5,230.2 L89.5,230.2 L90.5,230.2 L91.5,230.2 L92.5,230.2 L93.5,230.2 L94.5,230.2 L95.5,230.2 L96.5,230.2 L97.5,230.2 L98.5,230.2 L99.5,230.2 L100.5,230.2 L101.5,230.2 L102.5,230.2 L103.5,230.2 L104.5,230.2 L105.5,230.2 L106.5,230.2 L107.5,230.2 L108.5,230.2 L109.5,230.2 L110.5,230.2 L111.5,230.2 L112.5,230.2 L113.5,230.2 L114.5,230.2 L115.5,230.2 L116.5,230.2 L117.5,230.2 L118.5,230.2 L119.5,230.2 L120.5,230.2 L121.5,230.2 L122.5,230.1 L123.5,230.1 L124.5,230.1 L125.5,230.1 L126.5,230.1 L127.5,230.1 L128.5,230.1 L129.5,230.1 L130.5,230.1 L131.5,230.1 L132.5,230.1 L133.5,230.1 L134.5,230.0 L135.5,230.0 L136.5,230.0 L137.5,230.0 L138.5,230.0 L139.5,230.0 L140.5,230.0 L141.5,230.0 L142.5,230.0 L143.5,230.0 L144.5,230.0 L145.5,229.9 L146.5,229.9 L147.5,229.9 L148.5,229.9 L149.5,229.9 L150.5,229.9 L151.5,229.9 L152.5,229.9 L153.5,229.9 L154.5,229.8 L155.5,229.8 L156.5,229.8 L157.5,229.8 L158.5,229.8 L159.5,229.8 L160.5,229.8 L161.5,229.8 L162.5,229.8 L163.5,229.7 L164.5,229.7 L165.5,229.7 L166.5,229.7 L167.5,229.7 L168.5,229.7 L169.5,229.7 L170.5,229.7 L171.5,229.7 L172.5,229.7 L173.5,229.7 L174.5,229.7 L175.5,229.7 L176.5,229.7 L177.5,229.7 L178.5,229.7 L179.5,229.7 L180.5,229.7 L181.5,229.7 L182.5,229.7 L183.5,229.6 L184.5,229.6 L185.5,229.6 L186.5,229.6 L187.5,229.6 L188.5,229.6 L189.5,229.6 L190.5,229.6 L191.5,229.6 L192.5,229.6 L193.5,229.6 L194.5,229.6 L195.5,229.6 L196.5,229.6 L197.5,229.6 L198.5,229.6 L199.5,229.6 L200.5,229.6 L201.5,229.5 L202.5,229.5 L203.5,229.5 L204.5,229.5 L205.5,229.5 L206.5,229.5 L207.5,229.5 L208.5,229.5 L209.5,229.5 L210.5,229.4 L211.5,229.4 L212.5,229.4 L213.5,229.4 L214.5,229.4 L215.5,229.4 L216.5,229.4 L217.5,229.3 L218.5,229.3 L219.5,229.3 L220.5,229.3 L221.5,229.3 L222.5,229.3 L223.5,229.2 L224.5,229.2 L225.5,229.2 L226.5,229.2 L227.5,229.1 L228.5,229.1 L229.5,229.1 L230.5,229.1 L231.5,229.0 L232.5,229.0 L233.5,229.0 L234.5,229.0 L235.5,229.0 L236.5,229.0 L237.5,229.0 L238.5,229.0 L239.5,229.0 L240.5,229.0 L241.5,229.0 L242.5,229.0 L243.5,229.0 L244.5,229.0 L245.5,229.0 L246.5,229.0 L247.5,229.0 L248.5,229.0 L249.5,228.9 L250.5,228.9 L251.5,228.9 L252.5,228.9 L253.5,228.9 L254.5,228.9 L255.5,228.9 L256.5,228.9 L257.5,228.9 L258.5,228.9 L259.5,228.9 L260.5,228.9 L261.5,228.9 L262.5,228.9 L263.5,228.9 L264.5,228.9 L265.5,228.9 L266.5,228.9 L267.5,228.9 L268.5,228.9 L269.5,228.8 L270.5,228.8 L271.5,228.8 L272.5,228.8 L273.5,228.8 L274.5,228.8 L275.5,228.7 L276.5,228.7 L277.5,228.7 L278.5,228.6 L279.5,228.6 L280.5,228.6 L281.5,228.6 L282.5,228.5 L283.5,228.5 L284.5,228.4 L285.5,228.4 L286.5,228.4 L287.5,228.3 L288.5,228.3 L289.5,228.2 L290.5,228.2 L291.5,228.1 L292.5,228.0 L293.5,227.9 L294.5,227.7 L295.5,227.6 L296.5,227.4 L297.5,227.2 L298.5,227.0 L299.5,226.8 L300.5,226.6 L301.5,226.4 L302.5,226.1 L303.5,225.9 L304.5,225.7 L305.5,225.4 L306.5,225.2 L307.5,224.9 L308.5,224.7 L309.5,224.4 L310.5,224.1 L311.5,223.8 L312.5,223.4 L313.5,223.1 L314.5,222.8 L315.5,222.4 L316.5,222.0 L317.5,221.7 L318.5,221.3 L319.5,220.9 L320.5,220.5 L321.5,220.1 L322.5,219.7 L323.5,219.3 L324.5,218.8 L325.5,218.4 L326.5,217.9 L327.5,217.4 L328.5,216.9 L329.5,216.4 L330.5,215.9 L331.5,215.4 L332.5,214.9 L333.5,214.3 L334.5,213.8 L335.5,213.3 L336.5,212.8 L337.5,212.2 L338.5,211.6 L339.5,210.9 L340.5,210.1 L341.5,209.1 L342.5,207.9 L343.5,206.7 L344.5,205.3 L345.5,204.0 L346.5,202.6 L347.5,201.2 L348.5,199.8 L349.5,198.4 L350.5,197.0 L351.5,195.6 L352.5,194.0 L353.5,192.4 L354.5,190.6 L355.5,188.7 L356.5,186.6 L357.5,184.4 L358.5,182.1 L359.5,179.8 L360.5,177.4 L361.5,175.2 L362.5,172.9 L363.5,170.6 L364.5,168.2 L365.5,165.7 L366.5,163.0 L367.5,160.2 L368.5,157.2 L369.5,153.9 L370.5,150.4 L371.5,145.8 L372.5,140.5 L373.5,135.8 L374.5,131.3 L375.5,126.7 L376.5,121.8 L377.5,116.6 L378.1,113.5" stroke="#0f0" stroke-width="1.6" stroke-dasharray="1.6 1.95" stroke-dashoffset="0.2"/>
<path d="M60.5,230.1 L61.5,230.1 L62.5,230.1 L63.5,230.1 L64.5,230.0 L65.5,230.0 L66.5,230.0 L67.5,230.0 L68.5,229.9 L69.5,229.9 L70.5,229.9 L71.5,229.8 L72.5,229.8 L73.5,229.7 L74.5,229.7 L75.5,229.7 L76.5,229.6 L77.5,229.6 L78.5,229.5 L79.5,229.5 L80.5,229.4 L81.5,229.3 L82.5,229.3 L83.5,229.2 L84.5,229.1 L85.5,229.0 L86.5,229.0 L87.5,228.9 L88.5,228.8 L89.5,228.7 L90.5,228.6 L91.5,228.5 L92.5,228.4 L93.5,228.3 L94.5,228.3 L95.5,228.2 L96.5,228.1 L97.5,228.0 L98.5,227.9 L99.5,227.8 L100.5,227.7 L101.5,227.6 L102.5,227.5 L103.5,227.4 L104.5,227.3 L105.5,227.2 L106.5,227.1 L107.5,227.0 L108.5,226.9 L109.5,226.8 L110.5,226.7 L111.5,226.5 L112.5,226.4 L113.5,226.2 L114.5,226.1 L115.5,225.9 L116.5,225.7 L117.5,225.5 L118.5,225.3 L119.5,225.1 L120.5,224.9 L121.5,224.6 L122.5,224.4 L123.5,224.1 L124.5,223.9 L125.5,223.6 L126.5,223.3 L127.5,223.0 L128.5,222.7 L129.5,222.4 L130.5,222.1 L131.5,221.7 L132.5,221.4 L133.5,221.0 L134.5,220.6 L135.5,220.2 L136.5,219.8 L137.5,219.4 L138.5,218.9 L139.5,218.4 L140.5,217.9 L141.5,217.4 L142.5,216.8 L143.5,216.2 L144.5,215.6 L145.5,215.0 L146.5,214.3 L147.5,213.6 L148.5,212.9 L149.5,212.2 L150.5,211.5 L151.5,210.8 L152.5,210.1 L153.5,209.4 L154.5,208.6 L155.5,207.9 L156.5,207.2 L157.5,206.5 L158.5,205.9 L159.5,205.4 L160.5,205.0 L161.5,204.9 L162.5,205.2 L163.5,205.6 L164.5,206.4 L165.5,207.6 L166.5,209.3 L167.5,211.9 L168.5,214.9 L169.5,218.1 L170.5,221.7 L171.5,225.5 L172.5,229.4 L173.5,233.5 L174.5,237.6 L175.5,241.7 L176.5,245.9 L177.5,250.0 L178.5,253.7 L179.5,256.9 L180.5,259.9 L181.5,262.5 L182.5,264.4 L183.5,266.0 L184.5,267.4 L185.5,268.5 L186.5,269.3 L187.5,269.8 L188.5,270.3 L189.5,270.7 L190.5,270.9 L191.5,271.1 L192.5,271.2 L193.5,271.3 L194.5,271.4 L195.5,271.4 L197.0,271.4 L198.0,271.4 L199.0,271.4 L200.0,271.4 L201.0,271.4 L202.0,271.4 L203.0,271.3 L204.0,271.3 L205.0,271.3 L206.0,271.3 L207.0,271.3 L208.0,271.3 L209.0,271.3 L210.0,271.3 L211.0,271.3 L212.0,271.3 L213.0,271.3 L214.0,271.3 L215.0,271.3 L216.0,271.3 L217.0,271.3 L218.0,271.3 L219.0,271.2 L220.0,271.2 L221.0,271.2 L222.0,271.2 L223.0,271.2 L224.0,271.2 L225.0,271.2 L226.0,271.2 L227.0,271.2 L228.0,271.2 L229.0,271.2 L230.0,271.2 L231.0,271.1 L232.0,271.1 L233.0,271.1 L234.0,271.1 L235.0,271.1 L236.0,271.1 L237.0,271.1 L238.0,271.1 L239.0,271.1 L240.0,271.0 L241.0,271.0 L242.0,271.0 L243.0,271.0 L244.0,271.0 L245.0,271.0 L246.0,271.0 L247.0,270.9 L248.0,270.9 L249.0,270.9 L250.0,270.9 L251.0,270.9 L252.0,270.8 L253.0,270.8 L254.0,270.8 L255.0,270.8 L256.0,270.7 L257.0,270.7 L258.0,270.7 L259.0,270.7 L260.0,270.6 L261.0,270.6 L262.0,270.6 L263.0,270.5 L264.0,270.5 L265.0,270.5 L266.0,270.4 L267.0,270.4 L268.0,270.4 L269.0,270.3 L270.0,270.3 L271.0,270.3 L272.0,270.2 L273.0,270.2 L274.0,270.1 L275.0,270.1 L276.0,270.1 L277.0,270.0 L278.0,270.0 L279.0,269.9 L280.0,269.9 L281.0,269.8 L282.0,269.8 L283.0,269.7 L284.0,269.6 L285.0,269.6 L286.0,269.5 L287.0,269.4 L288.0,269.4 L289.0,269.3 L290.0,269.2 L291.0,269.1 L292.0,269.0 L293.0,268.9 L294.0,268.8 L295.0,268.7 L296.0,268.6 L297.0,268.5 L298.0,268.4 L299.0,268.3 L300.0,268.2 L301.0,268.0 L302.0,267.9 L303.0,267.8 L304.0,267.6 L305.0,267.5 L306.0,267.3 L307.0,267.2 L308.0,267.0 L309.0,266.8 L310.0,266.6 L311.0,266.4 L312.0,266.2 L313.0,266.0 L314.0,265.8 L315.0,265.6 L316.0,265.4 L317.0,265.1 L318.0,264.9 L319.0,264.6 L320.0,264.3 L321.0,264.0 L322.0,263.7 L323.0,263.4 L324.0,263.1 L325.0,262.8 L326.0,262.4 L327.0,262.0 L328.0,261.6 L329.0,261.2 L330.0,260.8 L331.0,260.4 L332.0,259.9 L333.0,259.4 L334.0,258.9 L335.0,258.4 L336.0,257.9 L337.0,257.3 L338.0,256.7 L339.0,256.1 L340.0,255.5 L341.0,254.8 L342.0,254.2 L343.0,253.4 L344.0,252.7 L345.0,251.9 L346.0,251.1 L347.0,250.3 L348.0,249.4 L349.0,248.5 L350.0,247.5 L351.0,246.5 L352.0,245.5 L353.0,244.4 L354.0,243.3 L355.0,242.1 L356.0,240.9 L357.0,239.6 L358.0,238.3 L359.0,236.9 L360.0,235.5 L361.0,233.9 L362.0,232.4 L363.0,230.7 L364.0,229.0 L365.0,227.3 L366.0,225.4 L367.0,223.5 L368.0,221.5 L369.0,219.4 L370.0,217.2 L371.0,215.0 L372.0,212.6 L373.0,210.2 L374.0,207.6 L375.0,205.0 L376.0,202.2 L377.0,199.3 L378.0,196.3 L379.0,193.2 L380.0,190.0 L381.0,186.6 L382.0,183.1 L383.0,179.5 L384.0,175.7 L385.0,171.8 L386.0,167.7 L387.0,163.4 L388.0,158.9 L389.0,154.3 L390.0,149.5 L391.0,144.5 L392.0,139.3 L393.0,133.8 L394.0,128.2 L395.0,122.3 L396.0,116.2" stroke="#f00" stroke-width="1.5"/>
<path d="M60.5,228.8 L61.5,228.8 L62.5,228.8 L63.5,228.8 L64.5,228.8 L65.5,228.8 L66.5,228.8 L67.5,228.8 L68.5,228.8 L69.5,228.8 L70.5,228.8 L71.5,228.8 L72.5,228.8 L73.5,228.8 L74.5,228.8 L75.5,228.8 L76.5,228.8 L77.5,228.8 L78.5,228.8 L79.5,228.8 L80.5,228.8 L81.5,228.8 L82.5,228.8 L83.5,228.8 L84.5,228.8 L85.5,228.8 L86.5,228.8 L87.5,228.8 L88.5,228.8 L89.5,228.8 L90.5,228.8 L91.5,228.8 L92.5,228.8 L93.5,228.8 L94.5,228.8 L95.5,228.7 L96.5,228.7 L97.5,228.7 L98.5,228.7 L99.5,228.7 L100.5,228.7 L101.5,228.7 L102.5,228.7 L103.5,228.7 L104.5,228.7 L105.5,228.7 L106.5,228.7 L107.5,228.7 L108.5,228.7 L109.5,228.7 L110.5,228.7 L111.5,228.7 L112.5,228.7 L113.5,228.7 L114.5,228.7 L115.5,228.7 L116.5,228.6 L117.5,228.6 L118.5,228.6 L119.5,228.6 L120.5,228.6 L121.5,228.6 L122.5,228.6 L123.5,228.5 L124.5,228.5 L125.5,228.5 L126.5,228.5 L127.5,228.5 L128.5,228.4 L129.5,228.4 L130.5,228.4 L131.5,228.4 L132.5,228.4 L133.5,228.3 L134.5,228.3 L135.5,228.3 L136.5,228.3 L137.5,228.3 L138.5,228.2 L139.5,228.2 L140.5,228.2 L141.5,228.2 L142.5,228.1 L143.5,228.1 L144.5,228.1 L145.5,228.1 L146.5,228.0 L147.5,228.0 L148.5,228.0 L149.5,227.9 L150.5,227.9 L151.5,227.9 L152.5,227.8 L153.5,227.8 L154.5,227.8 L155.5,227.7 L156.5,227.7 L157.5,227.7 L158.5,227.6 L159.5,227.6 L160.5,227.6 L161.5,227.5 L162.5,227.5 L163.5,227.5 L164.5,227.4 L165.5,227.4 L166.5,227.4 L167.5,227.4 L168.5,227.3 L169.5,227.3 L170.5,227.3 L171.5,227.3 L172.5,227.2 L173.5,227.2 L174.5,227.2 L175.5,227.2 L176.5,227.2 L177.5,227.2 L178.5,227.1 L179.5,227.1 L180.5,227.1 L181.5,227.1 L182.5,227.1 L183.5,227.1 L184.5,227.0 L185.5,227.0 L186.5,227.0 L187.5,227.0 L188.5,227.0 L189.5,227.0 L190.5,227.0 L191.5,226.9 L192.5,226.9 L193.5,226.9 L194.5,226.9 L195.5,226.9 L196.5,226.9 L197.5,226.9 L198.5,226.9 L199.5,226.9 L200.5,226.8 L201.5,226.8 L202.5,226.8 L203.5,226.8 L204.5,226.8 L205.5,226.8 L206.5,226.8 L207.5,226.8 L208.5,226.8 L209.5,226.8 L210.5,226.8 L211.5,226.8 L212.5,226.8 L213.5,226.8 L214.5,226.7 L215.5,226.7 L216.5,226.7 L217.5,226.7 L218.5,226.7 L219.5,226.7 L220.5,226.7 L221.5,226.7 L222.5,226.7 L223.5,226.7 L224.5,226.6 L225.5,226.6 L226.5,226.6 L227.5,226.6 L228.5,226.6 L229.5,226.5 L230.5,226.5 L231.5,226.5 L232.5,226.5 L233.5,226.5 L234.5,226.5 L235.5,226.5 L236.5,226.5 L237.5,226.5 L238.5,226.5 L239.5,226.5 L240.5,226.5 L241.5,226.5 L242.5,226.5 L243.5,226.5 L244.5,226.5 L245.5,226.5 L246.5,226.5 L247.5,226.5 L248.5,226.5 L249.5,226.5 L250.5,226.5 L251.5,226.5 L252.5,226.5 L253.5,226.5 L254.5,226.5 L255.5,226.5 L256.5,226.5 L257.5,226.5 L258.5,226.5 L259.5,226.5 L260.5,226.5 L261.5,226.5 L262.5,226.5 L263.5,226.6 L264.5,226.6 L265.5,226.6 L266.5,226.6 L267.5,226.6 L268.5,226.6 L269.5,226.6 L270.5,226.6 L271.5,226.6 L272.5,226.6 L273.5,226.6 L274.5,226.6 L275.5,226.6 L276.5,226.6 L277.5,226.6 L278.5,226.6 L279.5,226.6 L280.5,226.6 L281.5,226.6 L282.5,226.6 L283.5,226.6 L284.5,226.6 L285.5,226.6 L286.5,226.6 L287.5,226.6 L288.5,226.6 L289.5,226.6 L290.5,226.6 L291.5,226.6 L292.5,226.6 L293.5,226.5 L294.5,226.5 L295.5,226.4 L296.5,226.3 L297.5,226.2 L298.5,226.1 L299.5,226.1 L300.5,226.0 L301.5,225.9 L302.5,225.8 L303.5,225.7 L304.5,225.6 L305.5,225.5 L306.5,225.4 L307.5,225.3 L308.5,225.2 L309.5,225.1 L310.5,225.0 L311.5,224.9 L312.5,224.8 L313.5,224.7 L314.5,224.6 L315.5,224.4 L316.5,224.3 L317.5,224.2 L318.5,224.0 L319.5,223.9 L320.5,223.7 L321.5,223.6 L322.5,223.4 L323.5,223.2 L324.5,223.0 L325.5,222.8 L326.5,222.6 L327.5,222.4 L328.5,222.2 L329.5,222.0 L330.5,221.8 L331.5,221.6 L332.5,221.4 L333.5,221.1 L334.5,220.9 L335.5,220.7 L336.5,220.5 L337.5,220.3 L338.5,220.0 L339.5,219.7 L340.5,219.4 L341.5,219.1 L342.5,218.7 L343.5,218.3 L344.5,217.9 L345.5,217.5 L346.5,217.0 L347.5,216.5 L348.5,215.9 L349.5,215.4 L350.5,214.8 L351.5,214.2 L352.5,213.6 L353.5,213.0 L354.5,212.3 L355.5,211.6 L356.5,210.9 L357.5,210.1 L358.5,209.3 L359.5,208.4 L360.5,207.5 L361.5,206.6 L362.5,205.6 L363.5,204.5 L364.5,203.5 L365.5,202.4 L366.5,201.3 L367.5,200.2 L368.5,199.0 L369.5,197.9 L370.5,196.6 L371.5,195.3 L372.5,194.0 L373.5,192.5 L374.5,191.0 L375.5,189.4 L376.5,187.7 L377.5,185.9 L378.5,183.9 L379.5,181.7 L380.5,179.6 L381.5,177.3 L382.5,175.0 L383.5,172.5 L384.5,169.9 L385.5,167.0 L386.5,164.0 L387.5,160.9 L388.5,157.7 L389.5,154.5 L390.5,151.3 L391.5,148.1 L392.5,145.0 L393.5,141.8 L394.5,138.6 L395.5,135.4 L396.0,133.8" stroke="#00f" stroke-width="1.6" stroke-dasharray="4.9 2.2"/>
<path d="M60.5,230.2 L61.5,230.2 L62.5,230.2 L63.5,230.2 L64.5,230.2 L65.5,230.2 L66.5,230.2 L67.5,230.2 L68.5,230.2 L69.5,230.2 L70.5,230.2 L71.5,230.2 L72.5,230.2 L73.5,230.2 L74.5,230.2 L75.5,230.2 L76.5,230.2 L77.5,230.2 L78.5,230.2 L79.5,230.2 L80.5,230.2 L81.5,230.2 L82.5,230.2 L83.5,230.2 L84.5,230.2 L85.5,230.2 L86.5,230.2 L87.5,230.2 L88.5,230.2 L89.5,230.2 L90.5,230.2 L91.5,230.2 L92.5,230.2 L93.5,230.2 L94.5,230.2 L95.5,230.2 L96.5,230.2 L97.5,230.2 L98.5,230.2 L99.5,230.2 L100.5,230.2 L101.5,230.2 L102.5,230.2 L103.5,230.2 L104.5,230.2 L105.5,230.2 L106.5,230.2 L107.5,230.2 L108.5,230.2 L109.5,230.2 L110.5,230.2 L111.5,230.2 L112.5,230.2 L113.5,230.2 L114.5,230.2 L115.5,230.2 L116.5,230.2 L117.5,230.2 L118.5,230.2 L119.5,230.2 L120.5,230.2 L121.5,230.2 L122.5,230.1 L123.5,230.1 L124.5,230.1 L125.5,230.1 L126.5,230.1 L127.5,230.1 L128.5,230.1 L129.5,230.1 L130.5,230.1 L131.5,230.1 L132.5,230.1 L133.5,230.1 L134.5,230.0 L135.5,230.0 L136.5,230.0 L137.5,230.0 L138.5,230.0 L139.5,230.0 L140.5,230.0 L141.5,230.0 L142.5,230.0 L143.5,230.0 L144.5,230.0 L145.5,229.9 L146.5,229.9 L147.5,229.9 L148.5,229.9 L149.5,229.9 L150.5,229.9 L151.5,229.9 L152.5,229.9 L153.5,229.9 L154.5,229.8 L155.5,229.8 L156.5,229.8 L157.5,229.8 L158.5,229.8 L159.5,229.8 L160.5,229.8 L161.5,229.8 L162.5,229.8 L163.5,229.7 L164.5,229.7 L165.5,229.7 L166.5,229.7 L167.5,229.7 L168.5,229.7 L169.5,229.7 L170.5,229.7 L171.5,229.7 L172.5,229.7 L173.5,229.7 L174.5,229.7 L175.5,229.7 L176.5,229.7 L177.5,229.7 L178.5,229.7 L179.5,229.7 L180.5,229.7 L181.5,229.7 L182.5,229.7 L183.5,229.6 L184.5,229.6 L185.5,229.6 L186.5,229.6 L187.5,229.6 L188.5,229.6 L189.5,229.6 L190.5,229.6 L191.5,229.6 L192.5,229.6 L193.5,229.6 L194.5,229.6 L195.5,229.6 L196.5,229.6 L197.5,229.6 L198.5,229.6 L199.5,229.6 L200.5,229.6 L201.5,229.5 L202.5,229.5 L203.5,229.5 L204.5,229.5 L205.5,229.5 L206.5,229.5 L207.5,229.5 L208.5,229.5 L209.5,229.5 L210.5,229.4 L211.5,229.4 L212.5,229.4 L213.5,229.4 L214.5,229.4 L215.5,229.4 L216.5,229.4 L217.5,229.3 L218.5,229.3 L219.5,229.3 L220.5,229.3 L221.5,229.3 L222.5,229.3 L223.5,229.2 L224.5,229.2 L225.5,229.2 L226.5,229.1 L227.5,229.1 L228.5,229.1 L229.5,229.1 L230.5,229.1 L231.5,229.0 L232.5,229.0 L233.5,229.0 L234.5,229.0 L235.5,229.0 L236.5,229.0 L237.5,229.0 L238.5,229.0 L239.5,229.0 L240.5,229.0 L241.5,229.0 L242.5,229.0 L243.5,229.0 L244.5,229.0 L245.5,229.0 L246.5,229.0 L247.5,229.0 L248.5,229.0 L249.5,229.0 L250.5,229.0 L251.5,229.0 L252.5,229.0 L253.5,229.0 L254.5,229.0 L255.5,229.0 L256.5,229.0 L257.5,229.0 L258.5,229.0 L259.5,229.0 L260.5,229.0 L261.5,229.0 L262.5,229.0 L263.5,229.0 L264.5,229.0 L265.5,229.0 L266.5,229.0 L267.5,229.0 L268.5,229.0 L269.5,229.0 L270.5,229.0 L271.5,229.0 L272.5,229.0 L273.5,229.0 L274.5,229.0 L275.5,229.0 L276.5,229.0 L277.5,229.0 L278.5,229.0 L279.5,229.0 L280.5,229.0 L281.5,229.0 L282.5,229.0 L283.5,229.0 L284.5,229.0 L285.5,229.0 L286.5,229.0 L287.5,229.0 L288.5,229.0 L289.5,229.0 L290.5,229.0 L291.5,229.0 L292.5,229.0 L293.5,228.9 L294.5,228.9 L295.5,228.8 L296.5,228.8 L297.5,228.7 L298.5,228.6 L299.5,228.6 L300.5,228.5 L301.5,228.4 L302.5,228.3 L303.5,228.3 L304.5,228.2 L305.5,228.1 L306.5,228.0 L307.5,227.9 L308.5,227.8 L309.5,227.7 L310.5,227.6 L311.5,227.5 L312.5,227.4 L313.5,227.3 L314.5,227.2 L315.5,227.0 L316.5,226.9 L317.5,226.8 L318.5,226.6 L319.5,226.5 L320.5,226.4 L321.5,226.2 L322.5,226.1 L323.5,225.9 L324.5,225.7 L325.5,225.6 L326.5,225.4 L327.5,225.2 L328.5,225.1 L329.5,224.9 L330.5,224.7 L331.5,224.5 L332.5,224.3 L333.5,224.1 L334.5,224.0 L335.5,223.8 L336.5,223.6 L337.5,223.4 L338.5,223.2 L339.5,222.9 L340.5,222.7 L341.5,222.4 L342.5,222.1 L343.5,221.7 L344.5,221.4 L345.5,221.0 L346.5,220.6 L347.5,220.2 L348.5,219.7 L349.5,219.3 L350.5,218.8 L351.5,218.3 L352.5,217.8 L353.5,217.2 L354.5,216.6 L355.5,216.0 L356.5,215.4 L357.5,214.7 L358.5,213.9 L359.5,213.1 L360.5,212.3 L361.5,211.4 L362.5,210.5 L363.5,209.5 L364.5,208.5 L365.5,207.4 L366.5,206.3 L367.5,205.2 L368.5,204.1 L369.5,202.8 L370.5,201.5 L371.5,200.0 L372.5,198.4 L373.5,196.7 L374.5,194.9 L375.5,193.1 L376.5,191.3 L377.5,189.3 L378.5,187.3 L379.5,185.2 L380.5,182.9 L381.5,180.5 L382.5,177.9 L383.5,175.1 L384.5,172.1 L385.5,168.9 L386.5,165.6 L387.5,162.2 L388.5,158.7 L389.5,155.2 L390.5,151.7 L391.5,148.3 L392.5,144.7 L393.5,141.0 L394.5,137.3 L395.5,133.5 L396.0,131.6" stroke="#0f0" stroke-width="1.6" stroke-dasharray="1.6 1.95" stroke-dashoffset="0.3"/>
<path d="M60.5,230.1 L61.5,230.1 L62.5,230.1 L63.5,230.1 L64.5,230.0 L65.5,230.0 L66.5,230.0 L67.5,230.0 L68.5,229.9 L69.5,229.9 L70.5,229.9 L71.5,229.8 L72.5,229.8 L73.5,229.7 L74.5,229.7 L75.5,229.7 L76.5,229.6 L77.5,229.6 L78.5,229.5 L79.5,229.5 L80.5,229.4 L81.5,229.3 L82.5,229.3 L83.5,229.2 L84.5,229.1 L85.5,229.0 L86.5,229.0 L87.5,228.9 L88.5,228.8 L89.5,228.7 L90.5,228.6 L91.5,228.5 L92.5,228.4 L93.5,228.3 L94.5,228.3 L95.5,228.2 L96.5,228.1 L97.5,228.0 L98.5,227.9 L99.5,227.8 L100.5,227.7 L101.5,227.6 L102.5,227.5 L103.5,227.4 L104.5,227.3 L105.5,227.2 L106.5,227.1 L107.5,227.0 L108.5,226.9 L109.5,226.8 L110.5,226.7 L111.5,226.5 L112.5,226.4 L113.5,226.2 L114.5,226.1 L115.5,225.9 L116.5,225.7 L117.5,225.5 L118.5,225.3 L119.5,225.1 L120.5,224.9 L121.5,224.6 L122.5,224.4 L123.5,224.1 L124.5,223.9 L125.5,223.6 L126.5,223.3 L127.5,223.0 L128.5,222.7 L129.5,222.4 L130.5,222.1 L131.5,221.7 L132.5,221.4 L133.5,221.0 L134.5,220.6 L135.5,220.2 L136.5,219.8 L137.5,219.4 L138.5,218.9 L139.5,218.4 L140.5,217.9 L141.5,217.4 L142.5,216.8 L143.5,216.2 L144.5,215.6 L145.5,215.0 L146.5,214.3 L147.5,213.6 L148.5,212.9 L149.5,212.2 L150.5,211.5 L151.5,210.8 L152.5,210.1 L153.5,209.4 L154.5,208.6 L155.5,207.9 L156.5,207.2 L157.5,206.5 L158.5,205.9 L159.5,205.4 L160.5,205.0 L161.5,204.9 L162.5,205.2 L163.5,205.6 L164.5,206.4 L165.5,207.6 L166.5,209.3 L167.5,211.9 L168.5,214.9 L169.5,218.1 L170.5,221.7 L171.5,225.5 L172.5,229.4 L173.5,233.5 L174.5,237.6 L175.5,241.7 L176.5,245.9 L177.5,250.0 L178.5,253.7 L179.5,256.9 L180.5,259.9 L181.5,262.5 L182.5,264.4 L183.5,266.0 L184.5,267.4 L185.5,268.5 L186.5,269.3 L187.5,269.8 L188.5,270.3 L189.5,270.7 L190.5,270.9 L191.5,271.1 L192.5,271.2 L193.5,271.3 L194.5,271.4 L195.5,271.4 L197.0,271.4 L198.0,271.4 L199.0,271.4 L200.0,271.4 L201.0,271.4 L202.0,271.4 L203.0,271.4 L204.0,271.4 L205.0,271.4 L206.0,271.4 L207.0,271.4 L208.0,271.4 L209.0,271.4 L210.0,271.4 L211.0,271.4 L212.0,271.4 L213.0,271.4 L214.0,271.4 L215.0,271.4 L216.0,271.4 L217.0,271.4 L218.0,271.4 L219.0,271.4 L220.0,271.4 L221.0,271.3 L222.0,271.3 L223.0,271.3 L224.0,271.3 L225.0,271.3 L226.0,271.3 L227.0,271.3 L228.0,271.3 L229.0,271.3 L230.0,271.3 L231.0,271.3 L232.0,271.3 L233.0,271.3 L234.0,271.3 L235.0,271.3 L236.0,271.3 L237.0,271.3 L238.0,271.3 L239.0,271.3 L240.0,271.3 L241.0,271.3 L242.0,271.3 L243.0,271.3 L244.0,271.3 L245.0,271.3 L246.0,271.3 L247.0,271.3 L248.0,271.3 L249.0,271.3 L250.0,271.3 L251.0,271.3 L252.0,271.3 L253.0,271.3 L254.0,271.3 L255.0,271.2 L256.0,271.2 L257.0,271.2 L258.0,271.2 L259.0,271.2 L260.0,271.2 L261.0,271.2 L262.0,271.2 L263.0,271.2 L264.0,271.2 L265.0,271.2 L266.0,271.2 L267.0,271.2 L268.0,271.2 L269.0,271.2 L270.0,271.2 L271.0,271.2 L272.0,271.2 L273.0,271.2 L274.0,271.2 L275.0,271.2 L276.0,271.2 L277.0,271.2 L278.0,271.1 L279.0,271.1 L280.0,271.1 L281.0,271.1 L282.0,271.1 L283.0,271.1 L284.0,271.1 L285.0,271.1 L286.0,271.1 L287.0,271.1 L288.0,271.1 L289.0,271.1 L290.0,271.1 L291.0,271.1 L292.0,271.1 L293.0,271.1 L294.0,271.1 L295.0,271.0 L296.0,271.0 L297.0,271.0 L298.0,271.0 L299.0,271.0 L300.0,271.0 L301.0,270.9 L302.0,270.9 L303.0,270.9 L304.0,270.9 L305.0,270.9 L306.0,270.8 L307.0,270.8 L308.0,270.8 L309.0,270.8 L310.0,270.7 L311.0,270.7 L312.0,270.7 L313.0,270.7 L314.0,270.6 L315.0,270.6 L316.0,270.6 L317.0,270.5 L318.0,270.5 L319.0,270.5 L320.0,270.4 L321.0,270.4 L322.0,270.3 L323.0,270.3 L324.0,270.2 L325.0,270.2 L326.0,270.1 L327.0,270.0 L328.0,270.0 L329.0,269.9 L330.0,269.8 L331.0,269.7 L332.0,269.6 L333.0,269.5 L334.0,269.4 L335.0,269.3 L336.0,269.2 L337.0,269.1 L338.0,269.0 L339.0,268.9 L340.0,268.8 L341.0,268.7 L342.0,268.5 L343.0,268.4 L344.0,268.2 L345.0,268.1 L346.0,267.9 L347.0,267.7 L348.0,267.5 L349.0,267.4 L350.0,267.1 L351.0,266.9 L352.0,266.7 L353.0,266.5 L354.0,266.2 L355.0,266.0 L356.0,265.7 L357.0,265.4 L358.0,265.1 L359.0,264.8 L360.0,264.4 L361.0,264.1 L362.0,263.7 L363.0,263.3 L364.0,262.9 L365.0,262.5 L366.0,262.0 L367.0,261.6 L368.0,261.1 L369.0,260.6 L370.0,260.0 L371.0,259.5 L372.0,258.9 L373.0,258.3 L374.0,257.6 L375.0,257.0 L376.0,256.3 L377.0,255.6 L378.0,254.8 L379.0,254.0 L380.0,253.2 L381.0,252.4 L382.0,251.5 L383.0,250.6 L384.0,249.6 L385.0,248.6 L386.0,247.6 L387.0,246.5 L388.0,245.3 L389.0,244.1 L390.0,242.9 L391.0,241.6 L392.0,240.2 L393.0,238.8 L394.0,237.3 L395.0,235.8 L396.0,234.2 L397.0,232.5 L398.0,230.8 L399.0,229.0 L400.0,227.1 L401.0,225.1 L402.0,223.1 L403.0,220.9 L404.0,218.7 L405.0,216.4 L406.0,214.0 L407.0,211.5 L408.0,208.9 L409.0,206.2 L410.0,203.4 L411.0,200.5 L412.0,197.5 L413.0,194.3 L414.0,191.0 L415.0,187.6 L416.0,184.1 L417.0,180.4 L418.0,176.5 L419.0,172.6 L420.0,168.4 L421.0,164.1 L422.0,159.6 L423.2,154.0" stroke="#f00" stroke-width="1.5"/>
<path d="M60.5,228.8 L61.5,228.8 L62.5,228.8 L63.5,228.8 L64.5,228.8 L65.5,228.8 L66.5,228.8 L67.5,228.8 L68.5,228.8 L69.5,228.8 L70.5,228.8 L71.5,228.8 L72.5,228.8 L73.5,228.8 L74.5,228.8 L75.5,228.8 L76.5,228.8 L77.5,228.8 L78.5,228.8 L79.5,228.8 L80.5,228.8 L81.5,228.8 L82.5,228.8 L83.5,228.8 L84.5,228.8 L85.5,228.8 L86.5,228.8 L87.5,228.8 L88.5,228.8 L89.5,228.8 L90.5,228.8 L91.5,228.8 L92.5,228.8 L93.5,228.8 L94.5,228.8 L95.5,228.7 L96.5,228.7 L97.5,228.7 L98.5,228.7 L99.5,228.7 L100.5,228.7 L101.5,228.7 L102.5,228.7 L103.5,228.7 L104.5,228.7 L105.5,228.7 L106.5,228.7 L107.5,228.7 L108.5,228.7 L109.5,228.7 L110.5,228.7 L111.5,228.7 L112.5,228.7 L113.5,228.7 L114.5,228.7 L115.5,228.7 L116.5,228.6 L117.5,228.6 L118.5,228.6 L119.5,228.6 L120.5,228.6 L121.5,228.6 L122.5,228.6 L123.5,228.5 L124.5,228.5 L125.5,228.5 L126.5,228.5 L127.5,228.5 L128.5,228.4 L129.5,228.4 L130.5,228.4 L131.5,228.4 L132.5,228.4 L133.5,228.3 L134.5,228.3 L135.5,228.3 L136.5,228.3 L137.5,228.3 L138.5,228.2 L139.5,228.2 L140.5,228.2 L141.5,228.2 L142.5,228.1 L143.5,228.1 L144.5,228.1 L145.5,228.1 L146.5,228.0 L147.5,228.0 L148.5,228.0 L149.5,227.9 L150.5,227.9 L151.5,227.9 L152.5,227.8 L153.5,227.8 L154.5,227.8 L155.5,227.7 L156.5,227.7 L157.5,227.7 L158.5,227.6 L159.5,227.6 L160.5,227.6 L161.5,227.5 L162.5,227.5 L163.5,227.5 L164.5,227.4 L165.5,227.4 L166.5,227.4 L167.5,227.4 L168.5,227.3 L169.5,227.3 L170.5,227.3 L171.5,227.3 L172.5,227.2 L173.5,227.2 L174.5,227.2 L175.5,227.2 L176.5,227.2 L177.5,227.2 L178.5,227.1 L179.5,227.1 L180.5,227.1 L181.5,227.1 L182.5,227.1 L183.5,227.1 L184.5,227.0 L185.5,227.0 L186.5,227.0 L187.5,227.0 L188.5,227.0 L189.5,227.0 L190.5,227.0 L191.5,226.9 L192.5,226.9 L193.5,226.9 L194.5,226.9 L195.5,226.9 L196.5,226.9 L197.5,226.9 L198.5,226.9 L199.5,226.9 L200.5,226.8 L201.5,226.8 L202.5,226.8 L203.5,226.8 L204.5,226.8 L205.5,226.8 L206.5,226.8 L207.5,226.8 L208.5,226.8 L209.5,226.8 L210.5,226.8 L211.5,226.8 L212.5,226.8 L213.5,226.8 L214.5,226.7 L215.5,226.7 L216.5,226.7 L217.5,226.7 L218.5,226.7 L219.5,226.7 L220.5,226.7 L221.5,226.7 L222.5,226.7 L223.5,226.7 L224.5,226.6 L225.5,226.6 L226.5,226.6 L227.5,226.6 L228.5,226.6 L229.5,226.5 L230.5,226.5 L231.5,226.5 L232.5,226.5 L233.5,226.5 L234.5,226.5 L235.5,226.5 L236.5,226.5 L237.5,226.5 L238.5,226.5 L239.5,226.5 L240.5,226.5 L241.5,226.5 L242.5,226.5 L243.5,226.5 L244.5,226.5 L245.5,226.5 L246.5,226.5 L247.5,226.5 L248.5,226.5 L249.5,226.6 L250.5,226.6 L251.5,226.6 L252.5,226.6 L253.5,226.6 L254.5,226.6 L255.5,226.6 L256.5,226.6 L257.5,226.6 L258.5,226.6 L259.5,226.6 L260.5,226.6 L261.5,226.6 L262.5,226.7 L263.5,226.7 L264.5,226.7 L265.5,226.7 L266.5,226.7 L267.5,226.7 L268.5,226.7 L269.5,226.7 L270.5,226.7 L271.5,226.7 L272.5,226.7 L273.5,226.7 L274.5,226.7 L275.5,226.7 L276.5,226.8 L277.5,226.8 L278.5,226.8 L279.5,226.8 L280.5,226.8 L281.5,226.8 L282.5,226.8 L283.5,226.8 L284.5,226.8 L285.5,226.8 L286.5,226.8 L287.5,226.8 L288.5,226.8 L289.5,226.8 L290.5,226.8 L291.5,226.8 L292.5,226.8 L293.5,226.8 L294.5,226.8 L295.5,226.8 L296.5,226.8 L297.5,226.8 L298.5,226.8 L299.5,226.8 L300.5,226.8 L301.5,226.8 L302.5,226.8 L303.5,226.8 L304.5,226.8 L305.5,226.8 L306.5,226.8 L307.5,226.8 L308.5,226.8 L309.5,226.8 L310.5,226.8 L311.5,226.8 L312.5,226.8 L313.5,226.8 L314.5,226.8 L315.5,226.8 L316.5,226.8 L317.5,226.8 L318.5,226.8 L319.5,226.8 L320.5,226.8 L321.5,226.8 L322.5,226.8 L323.5,226.8 L324.5,226.8 L325.5,226.8 L326.5,226.8 L327.5,226.8 L328.5,226.8 L329.5,226.8 L330.5,226.8 L331.5,226.8 L332.5,226.8 L333.5,226.8 L334.5,226.8 L335.5,226.8 L336.5,226.8 L337.5,226.7 L338.5,226.7 L339.5,226.7 L340.5,226.6 L341.5,226.6 L342.5,226.5 L343.5,226.4 L344.5,226.4 L345.5,226.3 L346.5,226.2 L347.5,226.2 L348.5,226.1 L349.5,226.0 L350.5,225.9 L351.5,225.8 L352.5,225.8 L353.5,225.7 L354.5,225.6 L355.5,225.5 L356.5,225.4 L357.5,225.3 L358.5,225.1 L359.5,225.0 L360.5,224.8 L361.5,224.7 L362.5,224.5 L363.5,224.3 L364.5,224.1 L365.5,223.9 L366.5,223.7 L367.5,223.5 L368.5,223.3 L369.5,223.0 L370.5,222.8 L371.5,222.5 L372.5,222.1 L373.5,221.8 L374.5,221.4 L375.5,221.0 L376.5,220.6 L377.5,220.2 L378.5,219.7 L379.5,219.3 L380.5,218.8 L381.5,218.3 L382.5,217.8 L383.5,217.2 L384.5,216.7 L385.5,216.1 L386.5,215.5 L387.5,214.8 L388.5,214.1 L389.5,213.4 L390.5,212.6 L391.5,211.8 L392.5,211.0 L393.5,210.2 L394.5,209.3 L395.5,208.3 L396.5,207.3 L397.5,206.1 L398.5,204.9 L399.5,203.6 L400.5,202.3 L401.5,201.0 L402.5,199.7 L403.5,198.4 L404.5,197.1 L405.5,195.8 L406.5,194.4 L407.5,193.0 L408.5,191.5 L409.5,189.9 L410.5,188.3 L411.5,186.6 L412.5,184.9 L413.5,183.0 L414.5,181.1 L415.5,179.2 L416.5,177.3 L417.5,175.2 L418.5,173.2 L419.5,171.1 L420.5,168.9 L421.5,166.7 L422.5,164.4 L423.2,162.8" stroke="#00f" stroke-width="1.6" stroke-dasharray="4.9 2.2"/>
<path d="M60.5,230.2 L61.5,230.2 L62.5,230.2 L63.5,230.2 L64.5,230.2 L65.5,230.2 L66.5,230.2 L67.5,230.2 L68.5,230.2 L69.5,230.2 L70.5,230.2 L71.5,230.2 L72.5,230.2 L73.5,230.2 L74.5,230.2 L75.5,230.2 L76.5,230.2 L77.5,230.2 L78.5,230.2 L79.5,230.2 L80.5,230.2 L81.5,230.2 L82.5,230.2 L83.5,230.2 L84.5,230.2 L85.5,230.2 L86.5,230.2 L87.5,230.2 L88.5,230.2 L89.5,230.2 L90.5,230.2 L91.5,230.2 L92.5,230.2 L93.5,230.2 L94.5,230.2 L95.5,230.2 L96.5,230.2 L97.5,230.2 L98.5,230.2 L99.5,230.2 L100.5,230.2 L101.5,230.2 L102.5,230.2 L103.5,230.2 L104.5,230.2 L105.5,230.2 L106.5,230.2 L107.5,230.2 L108.5,230.2 L109.5,230.2 L110.5,230.2 L111.5,230.2 L112.5,230.2 L113.5,230.2 L114.5,230.2 L115.5,230.2 L116.5,230.2 L117.5,230.2 L118.5,230.2 L119.5,230.2 L120.5,230.2 L121.5,230.2 L122.5,230.1 L123.5,230.1 L124.5,230.1 L125.5,230.1 L126.5,230.1 L127.5,230.1 L128.5,230.1 L129.5,230.1 L130.5,230.1 L131.5,230.1 L132.5,230.1 L133.5,230.1 L134.5,230.0 L135.5,230.0 L136.5,230.0 L137.5,230.0 L138.5,230.0 L139.5,230.0 L140.5,230.0 L141.5,230.0 L142.5,230.0 L143.5,230.0 L144.5,230.0 L145.5,229.9 L146.5,229.9 L147.5,229.9 L148.5,229.9 L149.5,229.9 L150.5,229.9 L151.5,229.9 L152.5,229.9 L153.5,229.9 L154.5,229.8 L155.5,229.8 L156.5,229.8 L157.5,229.8 L158.5,229.8 L159.5,229.8 L160.5,229.8 L161.5,229.8 L162.5,229.8 L163.5,229.7 L164.5,229.7 L165.5,229.7 L166.5,229.7 L167.5,229.7 L168.5,229.7 L169.5,229.7 L170.5,229.7 L171.5,229.7 L172.5,229.7 L173.5,229.7 L174.5,229.7 L175.5,229.7 L176.5,229.7 L177.5,229.7 L178.5,229.7 L179.5,229.7 L180.5,229.7 L181.5,229.7 L182.5,229.7 L183.5,229.6 L184.5,229.6 L185.5,229.6 L186.5,229.6 L187.5,229.6 L188.5,229.6 L189.5,229.6 L190.5,229.6 L191.5,229.6 L192.5,229.6 L193.5,229.6 L194.5,229.6 L195.5,229.6 L196.5,229.6 L197.5,229.6 L198.5,229.6 L199.5,229.6 L200.5,229.6 L201.5,229.5 L202.5,229.5 L203.5,229.5 L204.5,229.5 L205.5,229.5 L206.5,229.5 L207.5,229.5 L208.5,229.5 L209.5,229.5 L210.5,229.4 L211.5,229.4 L212.5,229.4 L213.5,229.4 L214.5,229.4 L215.5,229.4 L216.5,229.4 L217.5,229.3 L218.5,229.3 L219.5,229.3 L220.5,229.3 L221.5,229.3 L222.5,229.3 L223.5,229.2 L224.5,229.2 L225.5,229.2 L226.5,229.1 L227.5,229.1 L228.5,229.1 L229.5,229.1 L230.5,229.1 L231.5,229.0 L232.5,229.0 L233.5,229.0 L234.5,229.0 L235.5,229.0 L236.5,229.0 L237.5,229.0 L238.5,229.0 L239.5,229.0 L240.5,229.0 L241.5,229.0 L242.5,229.0 L243.5,229.0 L244.5,229.0 L245.5,229.0 L246.5,229.0 L247.5,229.0 L248.5,229.0 L249.5,229.0 L250.5,229.0 L251.5,229.0 L252.5,229.0 L253.5,229.0 L254.5,229.0 L255.5,229.0 L256.5,229.0 L257.5,229.0 L258.5,229.0 L259.5,229.0 L260.5,229.0 L261.5,229.0 L262.5,229.0 L263.5,229.0 L264.5,229.0 L265.5,229.0 L266.5,229.0 L267.5,229.0 L268.5,229.0 L269.5,229.1 L270.5,229.1 L271.5,229.1 L272.5,229.1 L273.5,229.1 L274.5,229.1 L275.5,229.1 L276.5,229.1 L277.5,229.1 L278.5,229.1 L279.5,229.1 L280.5,229.1 L281.5,229.1 L282.5,229.1 L283.5,229.1 L284.5,229.1 L285.5,229.1 L286.5,229.1 L287.5,229.1 L288.5,229.1 L289.5,229.1 L290.5,229.1 L291.5,229.1 L292.5,229.1 L293.5,229.1 L294.5,229.1 L295.5,229.1 L296.5,229.1 L297.5,229.1 L298.5,229.1 L299.5,229.1 L300.5,229.1 L301.5,229.1 L302.5,229.1 L303.5,229.1 L304.5,229.1 L305.5,229.1 L306.5,229.1 L307.5,229.1 L308.5,229.2 L309.5,229.2 L310.5,229.2 L311.5,229.2 L312.5,229.2 L313.5,229.2 L314.5,229.2 L315.5,229.2 L316.5,229.2 L317.5,229.2 L318.5,229.2 L319.5,229.2 L320.5,229.2 L321.5,229.2 L322.5,229.2 L323.5,229.2 L324.5,229.2 L325.5,229.2 L326.5,229.2 L327.5,229.2 L328.5,229.2 L329.5,229.2 L330.5,229.2 L331.5,229.2 L332.5,229.2 L333.5,229.2 L334.5,229.2 L335.5,229.2 L336.5,229.2 L337.5,229.2 L338.5,229.2 L339.5,229.1 L340.5,229.1 L341.5,229.1 L342.5,229.1 L343.5,229.1 L344.5,229.0 L345.5,229.0 L346.5,229.0 L347.5,229.0 L348.5,228.9 L349.5,228.9 L350.5,228.9 L351.5,228.8 L352.5,228.8 L353.5,228.7 L354.5,228.7 L355.5,228.6 L356.5,228.6 L357.5,228.5 L358.5,228.4 L359.5,228.3 L360.5,228.2 L361.5,228.0 L362.5,227.9 L363.5,227.7 L364.5,227.6 L365.5,227.4 L366.5,227.2 L367.5,227.0 L368.5,226.9 L369.5,226.7 L370.5,226.5 L371.5,226.2 L372.5,226.0 L373.5,225.7 L374.5,225.5 L375.5,225.2 L376.5,224.8 L377.5,224.5 L378.5,224.2 L379.5,223.8 L380.5,223.5 L381.5,223.1 L382.5,222.7 L383.5,222.3 L384.5,221.8 L385.5,221.4 L386.5,220.9 L387.5,220.3 L388.5,219.8 L389.5,219.2 L390.5,218.6 L391.5,217.9 L392.5,217.2 L393.5,216.5 L394.5,215.7 L395.5,214.9 L396.5,214.0 L397.5,212.9 L398.5,211.8 L399.5,210.7 L400.5,209.4 L401.5,208.2 L402.5,206.9 L403.5,205.6 L404.5,204.2 L405.5,202.8 L406.5,201.2 L407.5,199.7 L408.5,198.0 L409.5,196.3 L410.5,194.5 L411.5,192.4 L412.5,190.3 L413.5,188.2 L414.5,186.1 L415.5,184.3 L416.5,182.6 L417.5,180.9 L418.5,179.1 L419.5,177.2 L420.5,175.2 L421.5,173.2 L422.5,171.1 L423.2,169.6" stroke="#0f0" stroke-width="1.6" stroke-dasharray="1.6 1.95" stroke-dashoffset="0.4"/>
<path d="M60.5,230.1 L61.5,230.1 L62.5,230.1 L63.5,230.1 L64.5,230.0 L65.5,230.0 L66.5,230.0 L67.5,230.0 L68.5,229.9 L69.5,229.9 L70.5,229.9 L71.5,229.8 L72.5,229.8 L73.5,229.7 L74.5,229.7 L75.5,229.7 L76.5,229.6 L77.5,229.6 L78.5,229.5 L79.5,229.5 L80.5,229.4 L81.5,229.3 L82.5,229.3 L83.5,229.2 L84.5,229.1 L85.5,229.0 L86.5,229.0 L87.5,228.9 L88.5,228.8 L89.5,228.7 L90.5,228.6 L91.5,228.5 L92.5,228.4 L93.5,228.3 L94.5,228.3 L95.5,228.2 L96.5,228.1 L97.5,228.0 L98.5,227.9 L99.5,227.8 L100.5,227.7 L101.5,227.6 L102.5,227.5 L103.5,227.4 L104.5,227.3 L105.5,227.2 L106.5,227.1 L107.5,227.0 L108.5,226.9 L109.5,226.8 L110.5,226.7 L111.5,226.5 L112.5,226.4 L113.5,226.2 L114.5,226.1 L115.5,225.9 L116.5,225.7 L117.5,225.5 L118.5,225.3 L119.5,225.1 L120.5,224.9 L121.5,224.6 L122.5,224.4 L123.5,224.1 L124.5,223.9 L125.5,223.6 L126.5,223.3 L127.5,223.0 L128.5,222.7 L129.5,222.4 L130.5,222.1 L131.5,221.7 L132.5,221.4 L133.5,221.0 L134.5,220.6 L135.5,220.2 L136.5,219.8 L137.5,219.4 L138.5,218.9 L139.5,218.4 L140.5,217.9 L141.5,217.4 L142.5,216.8 L143.5,216.2 L144.5,215.6 L145.5,215.0 L146.5,214.3 L147.5,213.6 L148.5,212.9 L149.5,212.2 L150.5,211.5 L151.5,210.8 L152.5,210.1 L153.5,209.4 L154.5,208.6 L155.5,207.9 L156.5,207.2 L157.5,206.5 L158.5,205.9 L159.5,205.4 L160.5,205.0 L161.5,204.9 L162.5,205.2 L163.5,205.6 L164.5,206.4 L165.5,207.6 L166.5,209.3 L167.5,211.9 L168.5,214.9 L169.5,218.1 L170.5,221.7 L171.5,225.5 L172.5,229.4 L173.5,233.5 L174.5,237.6 L175.5,241.7 L176.5,245.9 L177.5,250.0 L178.5,253.7 L179.5,256.9 L180.5,259.9 L181.5,262.5 L182.5,264.4 L183.5,266.0 L184.5,267.4 L185.5,268.5 L186.5,269.3 L187.5,269.8 L188.5,270.3 L189.5,270.7 L190.5,270.9 L191.5,271.1 L192.5,271.2 L193.5,271.3 L194.5,271.4 L195.5,271.4 L197.0,271.4 L198.0,271.4 L199.0,271.4 L200.0,271.4 L201.0,271.4 L202.0,271.4 L203.0,271.4 L204.0,271.4 L205.0,271.4 L206.0,271.4 L207.0,271.4 L208.0,271.4 L209.0,271.4 L210.0,271.4 L211.0,271.4 L212.0,271.4 L213.0,271.4 L214.0,271.4 L215.0,271.4 L216.0,271.4 L217.0,271.4 L218.0,271.4 L219.0,271.4 L220.0,271.4 L221.0,271.4 L222.0,271.4 L223.0,271.4 L224.0,271.4 L225.0,271.4 L226.0,271.4 L227.0,271.4 L228.0,271.4 L229.0,271.4 L230.0,271.4 L231.0,271.4 L232.0,271.4 L233.0,271.4 L234.0,271.4 L235.0,271.4 L236.0,271.4 L237.0,271.4 L238.0,271.4 L239.0,271.4 L240.0,271.4 L241.0,271.4 L242.0,271.4 L243.0,271.4 L244.0,271.4 L245.0,271.4 L246.0,271.4 L247.0,271.4 L248.0,271.4 L249.0,271.4 L250.0,271.4 L251.0,271.4 L252.0,271.4 L253.0,271.4 L254.0,271.4 L255.0,271.4 L256.0,271.4 L257.0,271.4 L258.0,271.4 L259.0,271.4 L260.0,271.4 L261.0,271.4 L262.0,271.4 L263.0,271.4 L264.0,271.4 L265.0,271.4 L266.0,271.4 L267.0,271.4 L268.0,271.4 L269.0,271.5 L270.0,271.5 L271.0,271.5 L272.0,271.5 L273.0,271.5 L274.0,271.5 L275.0,271.5 L276.0,271.5 L277.0,271.5 L278.0,271.5 L279.0,271.6 L280.0,271.6 L281.0,271.6 L282.0,271.6 L283.0,271.6 L284.0,271.6 L285.0,271.6 L286.0,271.7 L287.0,271.7 L288.0,271.7 L289.0,271.7 L290.0,271.7 L291.0,271.7 L292.0,271.8 L293.0,271.8 L294.0,271.8 L295.0,271.8 L296.0,271.8 L297.0,271.8 L298.0,271.9 L299.0,271.9 L300.0,271.9 L301.0,271.9 L302.0,271.9 L303.0,271.9 L304.0,272.0 L305.0,272.0 L306.0,272.0 L307.0,272.0 L308.0,272.1 L309.0,272.1 L310.0,272.1 L311.0,272.1 L312.0,272.2 L313.0,272.2 L314.0,272.2 L315.0,272.3 L316.0,272.3 L317.0,272.3 L318.0,272.4 L319.0,272.4 L320.0,272.4 L321.0,272.5 L322.0,272.5 L323.0,272.5 L324.0,272.6 L325.0,272.6 L326.0,272.6 L327.0,272.7 L328.0,272.7 L329.0,272.7 L330.0,272.8 L331.0,272.8 L332.0,272.8 L333.0,272.9 L334.0,272.9 L335.0,273.0 L336.0,273.0 L337.0,273.0 L338.0,273.1 L339.0,273.1 L340.0,273.2 L341.0,273.2 L342.0,273.3 L343.0,273.3 L344.0,273.3 L345.0,273.4 L346.0,273.4 L347.0,273.5 L348.0,273.5 L349.0,273.6 L350.0,273.6 L351.0,273.6 L352.0,273.7 L353.0,273.7 L354.0,273.8 L355.0,273.8 L356.0,273.8 L357.0,273.9 L358.0,273.9 L359.0,273.9 L360.0,273.9 L361.0,274.0 L362.0,274.0 L363.0,274.0 L364.0,274.0 L365.0,274.0 L366.0,274.0 L367.0,274.0 L368.0,274.0 L369.0,274.0 L370.0,274.0 L371.0,274.0 L372.0,274.0 L373.0,274.0 L374.0,274.0 L375.0,274.0 L376.0,273.9 L377.0,273.9 L378.0,273.9 L379.0,273.9 L380.0,273.8 L381.0,273.8 L382.0,273.8 L383.0,273.7 L384.0,273.7 L385.0,273.6 L386.0,273.5 L387.0,273.5 L388.0,273.4 L389.0,273.3 L390.0,273.2 L391.0,273.1 L392.0,273.0 L393.0,272.9 L394.0,272.7 L395.0,272.6 L396.0,272.5 L397.0,272.3 L398.0,272.1 L399.0,271.9 L400.0,271.7 L401.0,271.5 L402.0,271.3 L403.0,271.1 L404.0,270.8 L405.0,270.6 L406.0,270.3 L407.0,270.0 L408.0,269.7 L409.0,269.4 L410.0,269.1 L411.0,268.8 L412.0,268.5 L413.0,268.1 L414.0,267.7 L415.0,267.4 L416.0,266.9 L417.0,266.5 L418.0,266.1 L419.0,265.6 L420.0,265.1 L421.0,264.6 L422.0,264.1 L423.0,263.6 L424.0,263.0 L425.0,262.4 L426.0,261.8 L427.0,261.1 L428.0,260.5 L429.0,259.8 L430.0,259.0 L431.0,258.3 L432.0,257.5 L433.0,256.6 L434.0,255.8 L435.0,254.9 L436.0,253.9 L437.0,252.9 L438.0,251.9 L439.0,250.8 L440.0,249.7 L441.0,248.5 L442.0,247.3 L443.0,246.0 L444.0,244.7 L445.0,243.3 L446.0,241.9 L447.0,240.4 L448.0,238.8 L449.0,237.2 L450.0,235.5 L451.0,233.7 L452.0,231.8 L453.0,229.9" stroke="#f00" stroke-width="1.5"/>
<path d="M60.5,228.8 L61.5,228.8 L62.5,228.8 L63.5,228.8 L64.5,228.8 L65.5,228.8 L66.5,228.8 L67.5,228.8 L68.5,228.8 L69.5,228.8 L70.5,228.8 L71.5,228.8 L72.5,228.8 L73.5,228.8 L74.5,228.8 L75.5,228.8 L76.5,228.8 L77.5,228.8 L78.5,228.8 L79.5,228.8 L80.5,228.8 L81.5,228.8 L82.5,228.8 L83.5,228.8 L84.5,228.8 L85.5,228.8 L86.5,228.8 L87.5,228.8 L88.5,228.8 L89.5,228.8 L90.5,228.8 L91.5,228.8 L92.5,228.8 L93.5,228.8 L94.5,228.8 L95.5,228.7 L96.5,228.7 L97.5,228.7 L98.5,228.7 L99.5,228.7 L100.5,228.7 L101.5,228.7 L102.5,228.7 L103.5,228.7 L104.5,228.7 L105.5,228.7 L106.5,228.7 L107.5,228.7 L108.5,228.7 L109.5,228.7 L110.5,228.7 L111.5,228.7 L112.5,228.7 L113.5,228.7 L114.5,228.7 L115.5,228.7 L116.5,228.6 L117.5,228.6 L118.5,228.6 L119.5,228.6 L120.5,228.6 L121.5,228.6 L122.5,228.6 L123.5,228.5 L124.5,228.5 L125.5,228.5 L126.5,228.5 L127.5,228.5 L128.5,228.4 L129.5,228.4 L130.5,228.4 L131.5,228.4 L132.5,228.4 L133.5,228.3 L134.5,228.3 L135.5,228.3 L136.5,228.3 L137.5,228.3 L138.5,228.2 L139.5,228.2 L140.5,228.2 L141.5,228.2 L142.5,228.1 L143.5,228.1 L144.5,228.1 L145.5,228.1 L146.5,228.0 L147.5,228.0 L148.5,228.0 L149.5,227.9 L150.5,227.9 L151.5,227.9 L152.5,227.8 L153.5,227.8 L154.5,227.8 L155.5,227.7 L156.5,227.7 L157.5,227.7 L158.5,227.6 L159.5,227.6 L160.5,227.6 L161.5,227.5 L162.5,227.5 L163.5,227.5 L164.5,227.4 L165.5,227.4 L166.5,227.4 L167.5,227.4 L168.5,227.3 L169.5,227.3 L170.5,227.3 L171.5,227.3 L172.5,227.2 L173.5,227.2 L174.5,227.2 L175.5,227.2 L176.5,227.2 L177.5,227.2 L178.5,227.1 L179.5,227.1 L180.5,227.1 L181.5,227.1 L182.5,227.1 L183.5,227.1 L184.5,227.0 L185.5,227.0 L186.5,227.0 L187.5,227.0 L188.5,227.0 L189.5,227.0 L190.5,227.0 L191.5,226.9 L192.5,226.9 L193.5,226.9 L194.5,226.9 L195.5,226.9 L196.5,226.9 L197.5,226.9 L198.5,226.9 L199.5,226.9 L200.5,226.8 L201.5,226.8 L202.5,226.8 L203.5,226.8 L204.5,226.8 L205.5,226.8 L206.5,226.8 L207.5,226.8 L208.5,226.8 L209.5,226.8 L210.5,226.8 L211.5,226.8 L212.5,226.8 L213.5,226.8 L214.5,226.7 L215.5,226.7 L216.5,226.7 L217.5,226.7 L218.5,226.7 L219.5,226.7 L220.5,226.7 L221.5,226.7 L222.5,226.7 L223.5,226.7 L224.5,226.6 L225.5,226.6 L226.5,226.6 L227.5,226.6 L228.5,226.6 L229.5,226.5 L230.5,226.5 L231.5,226.5 L232.5,226.5 L233.5,226.5 L234.5,226.5 L235.5,226.5 L236.5,226.5 L237.5,226.5 L238.5,226.5 L239.5,226.5 L240.5,226.5 L241.5,226.5 L242.5,226.5 L243.5,226.5 L244.5,226.5 L245.5,226.5 L246.5,226.5 L247.5,226.5 L248.5,226.5 L249.5,226.5 L250.5,226.5 L251.5,226.5 L252.5,226.5 L253.5,226.5 L254.5,226.5 L255.5,226.6 L256.5,226.6 L257.5,226.6 L258.5,226.6 L259.5,226.6 L260.5,226.6 L261.5,226.6 L262.5,226.6 L263.5,226.6 L264.5,226.6 L265.5,226.6 L266.5,226.6 L267.5,226.6 L268.5,226.6 L269.5,226.6 L270.5,226.6 L271.5,226.7 L272.5,226.7 L273.5,226.7 L274.5,226.7 L275.5,226.7 L276.5,226.7 L277.5,226.7 L278.5,226.7 L279.5,226.7 L280.5,226.7 L281.5,226.7 L282.5,226.7 L283.5,226.7 L284.5,226.8 L285.5,226.8 L286.5,226.8 L287.5,226.8 L288.5,226.8 L289.5,226.8 L290.5,226.8 L291.5,226.8 L292.5,226.8 L293.5,226.8 L294.5,226.8 L295.5,226.9 L296.5,226.9 L297.5,226.9 L298.5,226.9 L299.5,226.9 L300.5,226.9 L301.5,226.9 L302.5,227.0 L303.5,227.0 L304.5,227.0 L305.5,227.0 L306.5,227.0 L307.5,227.0 L308.5,227.1 L309.5,227.1 L310.5,227.1 L311.5,227.1 L312.5,227.1 L313.5,227.1 L314.5,227.2 L315.5,227.2 L316.5,227.2 L317.5,227.2 L318.5,227.2 L319.5,227.3 L320.5,227.3 L321.5,227.3 L322.5,227.3 L323.5,227.3 L324.5,227.4 L325.5,227.4 L326.5,227.4 L327.5,227.4 L328.5,227.4 L329.5,227.5 L330.5,227.5 L331.5,227.5 L332.5,227.5 L333.5,227.5 L334.5,227.6 L335.5,227.6 L336.5,227.6 L337.5,227.6 L338.5,227.6 L339.5,227.6 L340.5,227.7 L341.5,227.7 L342.5,227.7 L343.5,227.7 L344.5,227.7 L345.5,227.7 L346.5,227.8 L347.5,227.8 L348.5,227.8 L349.5,227.8 L350.5,227.8 L351.5,227.8 L352.5,227.8 L353.5,227.8 L354.5,227.9 L355.5,227.9 L356.5,227.9 L357.5,227.9 L358.5,227.9 L359.5,227.9 L360.5,227.9 L361.5,227.9 L362.5,227.9 L363.5,228.0 L364.5,228.0 L365.5,228.0 L366.5,228.0 L367.5,228.0 L368.5,228.0 L369.5,228.0 L370.5,228.0 L371.5,228.1 L372.5,228.1 L373.5,228.1 L374.5,228.1 L375.5,228.1 L376.5,228.1 L377.5,228.1 L378.5,228.1 L379.5,228.1 L380.5,228.1 L381.5,228.1 L382.5,228.2 L383.5,228.2 L384.5,228.2 L385.5,228.2 L386.5,228.2 L387.5,228.2 L388.5,228.2 L389.5,228.2 L390.5,228.2 L391.5,228.2 L392.5,228.2 L393.5,228.2 L394.5,228.2 L395.5,228.2 L396.5,228.2 L397.5,228.2 L398.5,228.1 L399.5,228.1 L400.5,228.1 L401.5,228.0 L402.5,227.9 L403.5,227.9 L404.5,227.8 L405.5,227.7 L406.5,227.6 L407.5,227.6 L408.5,227.5 L409.5,227.4 L410.5,227.3 L411.5,227.2 L412.5,227.0 L413.5,226.9 L414.5,226.7 L415.5,226.5 L416.5,226.4 L417.5,226.1 L418.5,225.9 L419.5,225.7 L420.5,225.5 L421.5,225.2 L422.5,224.9 L423.5,224.7 L424.5,224.4 L425.5,224.1 L426.5,223.8 L427.5,223.4 L428.5,223.0 L429.5,222.6 L430.5,222.2 L431.5,221.7 L432.5,221.2 L433.5,220.7 L434.5,220.2 L435.5,219.6 L436.5,219.1 L437.5,218.5 L438.5,217.9 L439.5,217.3 L440.5,216.5 L441.5,215.8 L442.5,214.9 L443.5,214.1 L444.5,213.2 L445.5,212.3 L446.5,211.4 L447.5,210.5 L448.5,209.5 L449.5,208.5 L450.5,207.5 L451.5,206.4 L452.5,205.4 L453.0,204.8" stroke="#00f" stroke-width="1.6" stroke-dasharray="4.9 2.2"/>
<path d="M60.5,230.2 L61.5,230.2 L62.5,230.2 L63.5,230.2 L64.5,230.2 L65.5,230.2 L66.5,230.2 L67.5,230.2 L68.5,230.2 L69.5,230.2 L70.5,230.2 L71.5,230.2 L72.5,230.2 L73.5,230.2 L74.5,230.2 L75.5,230.2 L76.5,230.2 L77.5,230.2 L78.5,230.2 L79.5,230.2 L80.5,230.2 L81.5,230.2 L82.5,230.2 L83.5,230.2 L84.5,230.2 L85.5,230.2 L86.5,230.2 L87.5,230.2 L88.5,230.2 L89.5,230.2 L90.5,230.2 L91.5,230.2 L92.5,230.2 L93.5,230.2 L94.5,230.2 L95.5,230.2 L96.5,230.2 L97.5,230.2 L98.5,230.2 L99.5,230.2 L100.5,230.2 L101.5,230.2 L102.5,230.2 L103.5,230.2 L104.5,230.2 L105.5,230.2 L106.5,230.2 L107.5,230.2 L108.5,230.2 L109.5,230.2 L110.5,230.2 L111.5,230.2 L112.5,230.2 L113.5,230.2 L114.5,230.2 L115.5,230.2 L116.5,230.2 L117.5,230.2 L118.5,230.2 L119.5,230.2 L120.5,230.2 L121.5,230.2 L122.5,230.1 L123.5,230.1 L124.5,230.1 L125.5,230.1 L126.5,230.1 L127.5,230.1 L128.5,230.1 L129.5,230.1 L130.5,230.1 L131.5,230.1 L132.5,230.1 L133.5,230.1 L134.5,230.0 L135.5,230.0 L136.5,230.0 L137.5,230.0 L138.5,230.0 L139.5,230.0 L140.5,230.0 L141.5,230.0 L142.5,230.0 L143.5,230.0 L144.5,230.0 L145.5,229.9 L146.5,229.9 L147.5,229.9 L148.5,229.9 L149.5,229.9 L150.5,229.9 L151.5,229.9 L152.5,229.9 L153.5,229.9 L154.5,229.8 L155.5,229.8 L156.5,229.8 L157.5,229.8 L158.5,229.8 L159.5,229.8 L160.5,229.8 L161.5,229.8 L162.5,229.8 L163.5,229.7 L164.5,229.7 L165.5,229.7 L166.5,229.7 L167.5,229.7 L168.5,229.7 L169.5,229.7 L170.5,229.7 L171.5,229.7 L172.5,229.7 L173.5,229.7 L174.5,229.7 L175.5,229.7 L176.5,229.7 L177.5,229.7 L178.5,229.7 L179.5,229.7 L180.5,229.7 L181.5,229.7 L182.5,229.7 L183.5,229.6 L184.5,229.6 L185.5,229.6 L186.5,229.6 L187.5,229.6 L188.5,229.6 L189.5,229.6 L190.5,229.6 L191.5,229.6 L192.5,229.6 L193.5,229.6 L194.5,229.6 L195.5,229.6 L196.5,229.6 L197.5,229.6 L198.5,229.6 L199.5,229.6 L200.5,229.6 L201.5,229.5 L202.5,229.5 L203.5,229.5 L204.5,229.5 L205.5,229.5 L206.5,229.5 L207.5,229.5 L208.5,229.5 L209.5,229.5 L210.5,229.4 L211.5,229.4 L212.5,229.4 L213.5,229.4 L214.5,229.4 L215.5,229.4 L216.5,229.4 L217.5,229.3 L218.5,229.3 L219.5,229.3 L220.5,229.3 L221.5,229.3 L222.5,229.3 L223.5,229.2 L224.5,229.2 L225.5,229.2 L226.5,229.1 L227.5,229.1 L228.5,229.1 L229.5,229.1 L230.5,229.1 L231.5,229.0 L232.5,229.0 L233.5,229.0 L234.5,229.0 L235.5,229.0 L236.5,229.0 L237.5,229.0 L238.5,229.0 L239.5,229.0 L240.5,229.0 L241.5,229.0 L242.5,229.0 L243.5,229.0 L244.5,229.0 L245.5,229.0 L246.5,229.0 L247.5,229.0 L248.5,229.0 L249.5,229.0 L250.5,229.0 L251.5,229.0 L252.5,229.0 L253.5,229.0 L254.5,229.0 L255.5,229.0 L256.5,229.0 L257.5,229.0 L258.5,229.0 L259.5,229.0 L260.5,229.0 L261.5,229.0 L262.5,229.0 L263.5,229.0 L264.5,229.0 L265.5,229.0 L266.5,229.0 L267.5,229.0 L268.5,229.0 L269.5,229.0 L270.5,229.0 L271.5,229.0 L272.5,229.1 L273.5,229.1 L274.5,229.1 L275.5,229.1 L276.5,229.1 L277.5,229.1 L278.5,229.1 L279.5,229.1 L280.5,229.1 L281.5,229.1 L282.5,229.1 L283.5,229.1 L284.5,229.1 L285.5,229.1 L286.5,229.1 L287.5,229.1 L288.5,229.1 L289.5,229.1 L290.5,229.1 L291.5,229.1 L292.5,229.1 L293.5,229.1 L294.5,229.1 L295.5,229.1 L296.5,229.1 L297.5,229.1 L298.5,229.1 L299.5,229.1 L300.5,229.1 L301.5,229.1 L302.5,229.2 L303.5,229.2 L304.5,229.2 L305.5,229.2 L306.5,229.2 L307.5,229.2 L308.5,229.2 L309.5,229.2 L310.5,229.2 L311.5,229.2 L312.5,229.2 L313.5,229.2 L314.5,229.2 L315.5,229.2 L316.5,229.3 L317.5,229.3 L318.5,229.3 L319.5,229.3 L320.5,229.3 L321.5,229.3 L322.5,229.3 L323.5,229.3 L324.5,229.3 L325.5,229.3 L326.5,229.3 L327.5,229.4 L328.5,229.4 L329.5,229.4 L330.5,229.4 L331.5,229.4 L332.5,229.4 L333.5,229.4 L334.5,229.4 L335.5,229.4 L336.5,229.4 L337.5,229.5 L338.5,229.5 L339.5,229.5 L340.5,229.5 L341.5,229.5 L342.5,229.5 L343.5,229.5 L344.5,229.5 L345.5,229.5 L346.5,229.6 L347.5,229.6 L348.5,229.6 L349.5,229.6 L350.5,229.6 L351.5,229.6 L352.5,229.6 L353.5,229.6 L354.5,229.7 L355.5,229.7 L356.5,229.7 L357.5,229.7 L358.5,229.7 L359.5,229.7 L360.5,229.8 L361.5,229.8 L362.5,229.8 L363.5,229.8 L364.5,229.8 L365.5,229.9 L366.5,229.9 L367.5,229.9 L368.5,229.9 L369.5,229.9 L370.5,230.0 L371.5,230.0 L372.5,230.0 L373.5,230.0 L374.5,230.1 L375.5,230.1 L376.5,230.1 L377.5,230.1 L378.5,230.1 L379.5,230.2 L380.5,230.2 L381.5,230.2 L382.5,230.2 L383.5,230.2 L384.5,230.3 L385.5,230.3 L386.5,230.3 L387.5,230.3 L388.5,230.3 L389.5,230.3 L390.5,230.3 L391.5,230.4 L392.5,230.4 L393.5,230.4 L394.5,230.4 L395.5,230.4 L396.5,230.4 L397.5,230.4 L398.5,230.4 L399.5,230.4 L400.5,230.5 L401.5,230.5 L402.5,230.5 L403.5,230.5 L404.5,230.5 L405.5,230.5 L406.5,230.5 L407.5,230.5 L408.5,230.5 L409.5,230.5 L410.5,230.5 L411.5,230.4 L412.5,230.3 L413.5,230.2 L414.5,230.1 L415.5,230.0 L416.5,229.8 L417.5,229.6 L418.5,229.4 L419.5,229.2 L420.5,229.0 L421.5,228.7 L422.5,228.5 L423.5,228.3 L424.5,228.0 L425.5,227.8 L426.5,227.5 L427.5,227.1 L428.5,226.8 L429.5,226.4 L430.5,226.0 L431.5,225.6 L432.5,225.1 L433.5,224.7 L434.5,224.2 L435.5,223.7 L436.5,223.2 L437.5,222.7 L438.5,222.3 L439.5,221.7 L440.5,221.2 L441.5,220.6 L442.5,220.0 L443.5,219.3 L444.5,218.7 L445.5,218.0 L446.5,217.4 L447.5,216.7 L448.5,215.9 L449.5,215.2 L450.5,214.4 L451.5,213.6 L452.5,212.8 L453.0,212.4" stroke="#0f0" stroke-width="1.6" stroke-dasharray="1.6 1.95" stroke-dashoffset="0.5"/>
<path d="M152.0,210.4 L152.5,210.1 L153.0,209.7 L153.5,209.4 L154.0,209.0 L154.5,208.6 L155.0,208.3 L155.5,207.9 L156.0,207.6 L156.5,207.2 L157.0,206.9 L157.5,206.5 L158.0,206.2 L158.5,206.0 L159.0,205.7 L159.5,205.5 L160.0,205.3 L160.5,205.1 L161.0,205.0 L161.5,204.9 L162.0,204.9 L162.5,205.0 L163.0,205.1 L163.5,205.3 L164.0,205.4 L164.5,205.6 L165.0,205.9 L165.5,206.3 L166.0,206.9 L166.5,207.5 L167.0,208.2 L167.5,209.1 L168.0,210.3 L168.5,211.8 L169.0,213.4 L169.5,215.1 L170.0,216.9 L170.5,218.8 L171.0,220.9 L171.5,223.1 L172.0,225.3 L172.5,227.6 L173.0,229.8 L173.5,232.1 L174.0,234.4 L174.5,236.7 L175.0,238.9 L175.5,241.1 L176.0,243.3 L176.5,245.5 L177.0,247.7 L177.5,249.8 L178.0,251.7 L178.5,253.6 L179.0,255.3 L179.5,256.9" stroke="#f00" stroke-width="1.5"/>
<line x1="128.2" x2="128.2" y1="207.1" y2="244.4" stroke="#f00" stroke-width="1.3"/>
<line x1="119.6" x2="192.6" y1="86.5" y2="86.5" stroke="#f00" stroke-width="1.35"/>
<line x1="119.6" x2="192.6" y1="104.7" y2="104.7" stroke="#00f" stroke-width="1.4" stroke-dasharray="4.25 3.15"/>
<line x1="119.6" x2="192.6" y1="122.7" y2="122.7" stroke="#0f0" stroke-width="1.55" stroke-dasharray="1.9 1.78"/>
</g>
<g opacity="0.999">
<text transform="translate(87.78,13.8) scale(1.277,1.12)" font-family="Liberation Serif, serif" font-size="16.5" stroke="#000" stroke-width="0.3">m</text>
<text transform="translate(105.50,17.8) scale(1.289,1.0)" font-family="Liberation Serif, serif" font-size="12.5" font-weight="bold">h</text>
<path d="M116.7,6.5H126.6M116.7,10.5H126.6" stroke="#000" stroke-width="1.25" fill="none"/>
<text transform="translate(128.03,13.8) scale(1.226,1.0)" font-family="Liberation Sans, sans-serif" font-size="15.8" stroke="#000" stroke-width="0.3">870</text>
<text transform="translate(169.77,13.8) scale(0.951,1.0)" font-family="Liberation Serif, serif" font-size="16.5" stroke="#000" stroke-width="0.4">G</text>
<text transform="translate(181.21,13.8) scale(1.196,1.0)" font-family="Liberation Serif, serif" font-size="16.5" stroke="#000" stroke-width="0.4">e</text>
<text transform="translate(190.02,13.8) scale(1.065,1.0)" font-family="Liberation Serif, serif" font-size="16.5" stroke="#000" stroke-width="0.4">V</text>
<text transform="translate(203.03,13.8) scale(1.170,1.0)" font-family="Liberation Serif, serif" font-size="16.5" stroke="#000" stroke-width="0.4">,</text>
<text transform="translate(216.88,13.8) scale(1.269,1.12)" font-family="Liberation Serif, serif" font-size="16.5" stroke="#000" stroke-width="0.3">m</text>
<text transform="translate(234.98,16.8) scale(1.185,1.0)" font-family="Liberation Serif, serif" font-size="12.3" font-weight="bold" font-style="italic" stroke="#000" stroke-width="0.45">ϕ</text>
<path d="M245.1,6.5H255.4M245.1,10.5H255.4" stroke="#000" stroke-width="1.25" fill="none"/>
<text transform="translate(256.73,13.8) scale(1.214,1.0)" font-family="Liberation Sans, sans-serif" font-size="15.8" stroke="#000" stroke-width="0.3">500</text>
<text transform="translate(298.57,13.8) scale(0.951,1.0)" font-family="Liberation Serif, serif" font-size="16.5" stroke="#000" stroke-width="0.4">G</text>
<text transform="translate(310.01,13.8) scale(1.196,1.0)" font-family="Liberation Serif, serif" font-size="16.5" stroke="#000" stroke-width="0.4">e</text>
<text transform="translate(318.82,13.8) scale(1.065,1.0)" font-family="Liberation Serif, serif" font-size="16.5" stroke="#000" stroke-width="0.4">V</text>
<text transform="translate(331.83,13.8) scale(1.170,1.0)" font-family="Liberation Serif, serif" font-size="16.5" stroke="#000" stroke-width="0.4">,</text>
<text transform="translate(345.23,13.8) scale(1.023,1.0)" font-family="Liberation Serif, serif" font-size="16.5" stroke="#000" stroke-width="0.4">Λ</text>
<text transform="translate(357.09,16.8) scale(1.155,1.0)" font-family="Liberation Serif, serif" font-size="12.3" font-weight="bold" font-style="italic" stroke="#000" stroke-width="0.45">ϕ</text>
<path d="M367.3,6.5H377.7M367.3,10.5H377.7" stroke="#000" stroke-width="1.25" fill="none"/>
<text transform="translate(380.71,13.8) scale(1.089,1.0)" font-family="Liberation Sans, sans-serif" font-size="15.8" stroke="#000" stroke-width="0.3">10</text>
<text transform="translate(409.75,13.8) scale(1.065,1.0)" font-family="Liberation Serif, serif" font-size="16.5" stroke="#000" stroke-width="0.4">T</text>
<text transform="translate(420.21,13.8) scale(1.196,1.0)" font-family="Liberation Serif, serif" font-size="16.5" stroke="#000" stroke-width="0.4">e</text>
<text transform="translate(428.83,13.8) scale(1.013,1.0)" font-family="Liberation Serif, serif" font-size="16.5" stroke="#000" stroke-width="0.4">V</text>
<text transform="translate(45.75,56.40000000000002) scale(1.143,1.0)" font-family="Liberation Sans, sans-serif" font-size="14.8" stroke="#000" stroke-width="0.3">2</text>
<text transform="translate(46.99,146.1) scale(0.823,1.0)" font-family="Liberation Sans, sans-serif" font-size="14.8" stroke="#000" stroke-width="0.3">1</text>
<text transform="translate(46.67,236.10000000000002) scale(1.056,1.0)" font-family="Liberation Sans, sans-serif" font-size="14.8" stroke="#000" stroke-width="0.3">0</text>
<text transform="translate(47.22,325.70000000000005) scale(0.792,1.0)" font-family="Liberation Sans, sans-serif" font-size="14.8" stroke="#000" stroke-width="0.3">1</text>
<line x1="35.5" x2="45.2" y1="320.9" y2="320.9" stroke="#000" stroke-width="1.25"/>
<text transform="translate(163.47,356.3) scale(0.952,1.0)" font-family="Liberation Sans, sans-serif" font-size="14.5" stroke="#000" stroke-width="0.25">10</text>
<text transform="translate(180.52,351.6) scale(0.925,1.0)" font-family="Liberation Sans, sans-serif" font-size="15.7" stroke="#000" stroke-width="0.25">3</text>
<text transform="translate(333.46,356.3) scale(0.952,1.0)" font-family="Liberation Sans, sans-serif" font-size="14.5" stroke="#000" stroke-width="0.25">10</text>
<text transform="translate(350.83,351.6) scale(0.870,1.0)" font-family="Liberation Sans, sans-serif" font-size="15.7" stroke="#000" stroke-width="0.25">4</text>
<path d="M231.6,370.3 L233.5,369.3 L236.9,375.4 L241.0,363.0 L250.8,363.0" fill="none" stroke="#000" stroke-width="1.2" stroke-linejoin="miter"/>
<path d="M233.5,369.3 L236.9,375.4" fill="none" stroke="#000" stroke-width="1.9"/>
<text transform="translate(240.66,375.4) scale(1.228,1.1)" font-family="Liberation Serif, serif" font-size="15" stroke="#000" stroke-width="0.55">s</text>
<text transform="translate(258.26,375.2) scale(0.994,1.0)" font-family="Liberation Serif, serif" font-size="14.2" stroke="#000" stroke-width="0.55">(</text>
<text transform="translate(264.02,375.4) scale(1.018,1.0)" font-family="Liberation Serif, serif" font-size="14.2" stroke="#000" stroke-width="0.55">G</text>
<text transform="translate(275.11,375.4) scale(1.218,1.1)" font-family="Liberation Serif, serif" font-size="14.2" stroke="#000" stroke-width="0.55">e</text>
<text transform="translate(283.06,375.4) scale(1.006,1.0)" font-family="Liberation Serif, serif" font-size="14.2" stroke="#000" stroke-width="0.55">V</text>
<text transform="translate(293.60,375.2) scale(0.948,1.0)" font-family="Liberation Serif, serif" font-size="14.2" stroke="#000" stroke-width="0.55">)</text>
<g transform="translate(13.7,215.2) rotate(-90)">
<text transform="translate(-0.23,0) scale(0.878,1.0)" font-family="Liberation Serif, serif" font-size="16.5" stroke="#000" stroke-width="0.4">R</text>
<text transform="translate(9.76,0) scale(1.278,1.08)" font-family="Liberation Serif, serif" font-size="16.5" stroke="#000" stroke-width="0.4">e</text>
<text transform="translate(25.21,0) scale(1.108,1.0)" font-family="Liberation Sans, sans-serif" font-size="15.6" stroke="#000" stroke-width="0.4">a</text>
<text transform="translate(35.59,4.3) scale(1.048,1.0)" font-family="Liberation Sans, sans-serif" font-size="9.7" font-weight="bold">0,1,2</text>
</g>
<text transform="translate(85.07,92.8) scale(0.947,1.0)" font-family="Liberation Sans, sans-serif" font-size="15" font-weight="bold" fill="#f00">a</text>
<text transform="translate(93.92,95.89999999999999) scale(1.154,1.0)" font-family="Liberation Sans, sans-serif" font-size="10.4" font-weight="bold" fill="#f00" stroke="#f00" stroke-width="0.2">0</text>
<text transform="translate(85.07,110.8) scale(0.947,1.0)" font-family="Liberation Sans, sans-serif" font-size="15" font-weight="bold" fill="#00f">a</text>
<text transform="translate(94.68,113.89999999999999) scale(0.839,1.0)" font-family="Liberation Sans, sans-serif" font-size="10.4" font-weight="bold" fill="#00f" stroke="#00f" stroke-width="0.2">1</text>
<text transform="translate(85.07,128.8) scale(0.947,1.0)" font-family="Liberation Sans, sans-serif" font-size="15" font-weight="bold" fill="#0f0">a</text>
<text transform="translate(93.98,131.9) scale(1.162,1.0)" font-family="Liberation Sans, sans-serif" font-size="10.4" font-weight="bold" fill="#0f0" stroke="#0f0" stroke-width="0.2">2</text>
<text transform="translate(71.87,274.0) scale(1.227,1.0)" font-family="Liberation Serif, serif" font-size="13.6" fill="#f0f" stroke="#f0f" stroke-width="0.65">Unitarity</text>
<text transform="translate(139.33,274.0) scale(1.148,1.0)" font-family="Liberation Serif, serif" font-size="13.6" fill="#f0f" stroke="#f0f" stroke-width="0.65">Bounds</text>
<text transform="translate(86.11,306.8) scale(1.045,1.08)" font-family="Liberation Serif, serif" font-size="14" stroke="#000" stroke-width="0.55">m</text>
<text transform="translate(97.93,309.8) scale(1.203,1.0)" font-family="Liberation Sans, sans-serif" font-size="9.8" font-weight="bold">0</text>
<line x1="106.2" x2="112.6" y1="310.5" y2="296.5" stroke="#000" stroke-width="1.2"/>
<text transform="translate(114.09,306.8) scale(1.103,1.08)" font-family="Liberation Serif, serif" font-size="14" stroke="#000" stroke-width="0.55">m</text>
<text transform="translate(127.15,310.0) scale(1.079,1.0)" font-family="Liberation Serif, serif" font-size="9.3" font-weight="bold" stroke="#000" stroke-width="0.15">Planck</text>
<path d="M159.1,301.0H166.6M159.1,304.4H166.6" stroke="#000" stroke-width="1.2" fill="none"/>
<text transform="translate(167.87,306.8) scale(1.017,1.0)" font-family="Liberation Sans, sans-serif" font-size="13" stroke="#000" stroke-width="0.4">0.01</text>
<text transform="translate(193.80,306.8) scale(1.538,1.0)" font-family="Liberation Sans, sans-serif" font-size="13" stroke="#000" stroke-width="0.4">,</text>
<text transform="translate(205.66,306.8) scale(1.031,1.0)" font-family="Liberation Sans, sans-serif" font-size="13" stroke="#000" stroke-width="0.4">0.03</text>
<text transform="translate(232.00,306.8) scale(1.538,1.0)" font-family="Liberation Sans, sans-serif" font-size="13" stroke="#000" stroke-width="0.4">,</text>
<text transform="translate(243.16,306.8) scale(1.035,1.0)" font-family="Liberation Sans, sans-serif" font-size="13" stroke="#000" stroke-width="0.4">0.05</text>
<text transform="translate(269.60,306.8) scale(1.538,1.0)" font-family="Liberation Sans, sans-serif" font-size="13" stroke="#000" stroke-width="0.4">,</text>
<text transform="translate(281.39,306.8) scale(0.978,1.0)" font-family="Liberation Sans, sans-serif" font-size="13" stroke="#000" stroke-width="0.4">0.1</text>
<text transform="translate(299.30,306.8) scale(1.538,1.0)" font-family="Liberation Sans, sans-serif" font-size="13" stroke="#000" stroke-width="0.4">,</text>
<text transform="translate(311.06,306.8) scale(1.039,1.0)" font-family="Liberation Sans, sans-serif" font-size="13" stroke="#000" stroke-width="0.4">0.3</text>
<text transform="translate(330.10,306.8) scale(1.538,1.0)" font-family="Liberation Sans, sans-serif" font-size="13" stroke="#000" stroke-width="0.4">,</text>
<text transform="translate(342.21,306.8) scale(0.813,1.0)" font-family="Liberation Sans, sans-serif" font-size="13" stroke="#000" stroke-width="0.4">1</text>
</g>
</svg>
</body></html>
